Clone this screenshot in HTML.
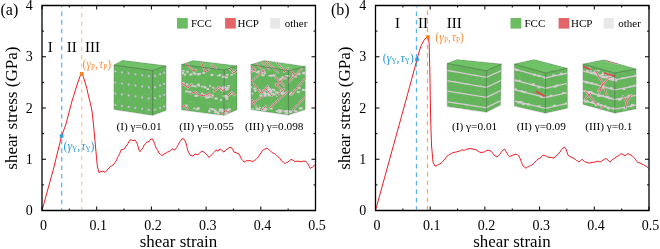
<!DOCTYPE html>
<html><head><meta charset="utf-8"><style>html,body{margin:0;padding:0;background:#fff;width:660px;height:249px;overflow:hidden}svg{display:block}</style></head><body>
<svg width="660" height="249" viewBox="0 0 660 249">
<rect width="660" height="249" fill="#fff"/>
<g style="filter:opacity(1)">
<line x1="61.7" y1="5.5" x2="61.7" y2="210.5" stroke="#5ab4ee" stroke-width="1.25" stroke-dasharray="4.6,3.95" stroke-dashoffset="2.5"/>
<line x1="81.7" y1="5.5" x2="81.7" y2="210.5" stroke="#f9c2a2" stroke-width="1.2" stroke-dasharray="4.2,4.22" stroke-dashoffset="0.9"/>
<polyline points="42,210.5 53.2,170 61.6,136 66,124 72,101 77,85 80.5,75 81.7,73.6 83.2,76.5 85,82 86.8,88.5 88.5,96 90,102 91.2,107 92,111 93,120 94,130 95,141 96,152 97.3,166 99,172.6 101,171.5 103,171.2 105,172.4 106.5,170.81 108,169 109,167.97 110,166.5 111.5,166.02 113,165 114,164.06 115,162.55 116,161 116.75,159.88 117.5,157.58 118.25,156.47 119,155 119.67,153.73 120.33,151.8 121,150 124,149 125,148.06 126,146.05 127,145.1 128,143.37 129,141.47 130,140 131,139.7 133,140.7 135,140 136,141.54 137,143 137.5,144.84 138,146.11 138.5,148.07 139,150.1 140,151.7 141,150.2 142,149.1 143,147.47 144,145.1 145.5,143.79 147,142 149,141.7 150,140.04 151,139 152.5,139 153.25,140.77 154,142 154.67,143.67 155.33,146.11 156,148 157,149.33 158,150.88 159,153 160.5,154.58 162,155.5 164,154.04 166,153.1 167.5,152.04 169,151.5 170.5,150.53 172,148.7 174,150.1 176,148.7 176.75,147.61 177.5,145.66 178.25,144.84 179,143 180,141.6 181,140.29 182,138.7 184,139 185,140.73 186,143 186.4,145.02 186.8,146.41 187.2,148.28 187.6,149.83 188,151.1 189,152.92 190,155.1 193,156.1 195,154.1 198,154.7 199.33,153.38 200.67,152 202,151.1 204,152.1 206,154.1 207.5,155.48 209,157.5 210.5,155.71 212,154.7 213.33,152.99 214.67,151.73 216,150.1 218,151.1 220,148.7 222,150.7 224,152.1 225.5,150.15 227,149.1 228.5,148.26 230,147.1 232,148.1 233,149.95 234,152.1 237,153.1 239,154.1 240,155.93 241,158.1 242,159.72 243,160.75 244,162.1 245.5,161.23 247,160.7 250,160.7 253,161.5 254.5,160.48 256,159.5 257.5,157.98 259,156.1 260,154.03 261,153.19 262,151.1 263.5,149.67 265,149.1 267,148.1 268.5,149.52 270,150.5 271.5,152.11 273,153.1 274.5,153.47 276,154.7 277.5,156.36 279,157.5 280,158.71 281,160.24 282,161.5 283.5,162.11 285,163.6 286.5,162.44 288,162.1 289.5,160.51 291,159.5 293,160.1 295,161.5 298,161.1 301,161.8 303.6,161 306,161.5 307.7,163.1 308.47,165.28 309.23,166.36 310,168.4 312.5,167.1 313.85,165.98 315.2,164.4" fill="none" stroke="#ec1c26" stroke-width="1.0" stroke-linejoin="round"/>
<path d="M42,210.5v-4M42,5.5v4M69.35,210.5v-2M69.35,5.5v2M96.7,210.5v-4M96.7,5.5v4M124.05,210.5v-2M124.05,5.5v2M151.4,210.5v-4M151.4,5.5v4M178.75,210.5v-2M178.75,5.5v2M206.1,210.5v-4M206.1,5.5v4M233.45,210.5v-2M233.45,5.5v2M260.8,210.5v-4M260.8,5.5v4M288.15,210.5v-2M288.15,5.5v2M315.5,210.5v-4M315.5,5.5v4M42,210.5h4M315.5,210.5h-4M42,184.88h2M315.5,184.88h-2M42,159.25h4M315.5,159.25h-4M42,133.62h2M315.5,133.62h-2M42,108h4M315.5,108h-4M42,82.38h2M315.5,82.38h-2M42,56.75h4M315.5,56.75h-4M42,31.12h2M315.5,31.12h-2M42,5.5h4M315.5,5.5h-4" stroke="#000" stroke-width="1" fill="none"/>
<path d="M42,5.5H315.5M315.5,4.85V211.15M315.5,210.5H42M42,211.15V4.85" stroke="#000" stroke-width="1.3" fill="none"/>
<text x="32.7" y="215.1" style="font-family:'Liberation Serif',serif" font-size="14" text-anchor="end">0</text>
<text x="32.7" y="163.85" style="font-family:'Liberation Serif',serif" font-size="14" text-anchor="end">1</text>
<text x="32.7" y="112.6" style="font-family:'Liberation Serif',serif" font-size="14" text-anchor="end">2</text>
<text x="32.7" y="61.35" style="font-family:'Liberation Serif',serif" font-size="14" text-anchor="end">3</text>
<text x="32.7" y="10.1" style="font-family:'Liberation Serif',serif" font-size="14" text-anchor="end">4</text>
<text x="43.6" y="229.6" style="font-family:'Liberation Serif',serif" font-size="14" text-anchor="middle">0</text>
<text x="98.3" y="229.6" style="font-family:'Liberation Serif',serif" font-size="14" text-anchor="middle">0.1</text>
<text x="153" y="229.6" style="font-family:'Liberation Serif',serif" font-size="14" text-anchor="middle">0.2</text>
<text x="207.7" y="229.6" style="font-family:'Liberation Serif',serif" font-size="14" text-anchor="middle">0.3</text>
<text x="262.4" y="229.6" style="font-family:'Liberation Serif',serif" font-size="14" text-anchor="middle">0.4</text>
<text x="317.1" y="229.6" style="font-family:'Liberation Serif',serif" font-size="14" text-anchor="middle">0.5</text>
<text x="178.5" y="246.9" style="font-family:'Liberation Serif',serif" font-size="16.3" text-anchor="middle" textLength="77.6" lengthAdjust="spacingAndGlyphs">shear strain</text>
<text transform="translate(17.3,108.1) rotate(-90)" style="font-family:'Liberation Serif',serif" font-size="16.5" text-anchor="middle" textLength="123.2" lengthAdjust="spacingAndGlyphs">shear stress (GPa)</text>
<text x="0.5" y="15" style="font-family:'Liberation Serif',serif" font-size="16">(a)</text>
<line x1="416.5" y1="5.5" x2="416.5" y2="210.5" stroke="#5ab4ee" stroke-width="1.25" stroke-dasharray="4.6,3.87" stroke-dashoffset="2.5"/>
<line x1="427.5" y1="5.5" x2="427.5" y2="210.5" stroke="#f3a866" stroke-width="1.2" stroke-dasharray="4.6,3.9" stroke-dashoffset="3.5"/>
<polyline points="375.5,210.5 406,100 417,59.5 419.3,51 421.2,45.5 424,40.2 426,37.8 427.6,36.9 428.5,38 429.2,44 429.8,70 430.7,120 431.5,145 433,162 435,166.2 437,165.5 438.5,164.45 440,164.1 441.33,162.57 442.67,161.43 444,160.1 445,159.06 446,157.53 447,156.1 448.5,155.32 450,154.1 451.5,153.49 453,152.5 456,152.1 459,151.1 460.5,150.81 462,149.7 464,150.5 465.5,149.7 467,149.1 470,148.5 473,149.1 476,149.7 478,151.1 479.5,152.01 481,152.5 484,152.1 486,150.82 488,150.1 491,151.1 492,152.54 493,153.36 494,155.1 495.5,156.14 497,157.1 498.5,155.76 500,154.1 501,152.57 502,151.15 503,150.1 504.7,149.1 505.85,151.34 507,153.1 508.25,155.35 509.5,156.7 512,155.5 514,154.64 516,154.1 517.5,154.86 519,156.1 519.67,157.87 520.33,158.99 521,161.1 521.67,162.59 522.33,164.41 523,166.1 524.5,167.06 526,168.2 527.5,167.09 529,166.5 530.5,165.51 532,165.1 533.5,163.57 535,162.1 536.5,160.51 538,159.1 540,158.1 541.5,156.67 543,155.1 545,155.6 546.5,156.32 548,157.1 551,157.5 554,158.1 556,156.1 557.5,154.46 559,153.1 560,152.14 561,150.37 562,149.1 563.25,147.72 564.5,147.1 566,149.1 566.67,151.13 567.33,153.1 568,155.1 569.5,156.4 571,157.1 573,157.9 575,159.1 576.33,160.49 577.67,161.07 579,162.1 580.5,160.51 582,159.4 583.33,160.39 584.67,161.5 586,162.1 589,163.1 592,162.5 595,162.1 598,161.1 600,162.1 601.5,161.32 603,160.1 604.5,159.16 606,158.5 608,160.1 610,162.1 611.5,160.72 613,159.1 614.5,158.37 616,157.1 618,156.1 619.5,154.99 621,153.7 623,154.5 625,155.7 626.5,154.5 628,153.7 629.5,154.38 631,155.1 632.5,156.15 634,157.7 635.33,159.13 636.67,161.29 638,162.5 640,163.01 642,164.1 643.5,164.62 645,165.7 646.75,166.64 648.5,168.2" fill="none" stroke="#ec1c26" stroke-width="1.0" stroke-linejoin="round"/>
<path d="M375.5,210.5v-4M375.5,5.5v4M402.85,210.5v-2M402.85,5.5v2M430.2,210.5v-4M430.2,5.5v4M457.55,210.5v-2M457.55,5.5v2M484.9,210.5v-4M484.9,5.5v4M512.25,210.5v-2M512.25,5.5v2M539.6,210.5v-4M539.6,5.5v4M566.95,210.5v-2M566.95,5.5v2M594.3,210.5v-4M594.3,5.5v4M621.65,210.5v-2M621.65,5.5v2M649,210.5v-4M649,5.5v4M375.5,210.5h4M649,210.5h-4M375.5,184.88h2M649,184.88h-2M375.5,159.25h4M649,159.25h-4M375.5,133.62h2M649,133.62h-2M375.5,108h4M649,108h-4M375.5,82.38h2M649,82.38h-2M375.5,56.75h4M649,56.75h-4M375.5,31.12h2M649,31.12h-2M375.5,5.5h4M649,5.5h-4" stroke="#000" stroke-width="1" fill="none"/>
<path d="M375.5,5.5H649M649,4.85V211.15M649,210.5H375.5M375.5,211.15V4.85" stroke="#000" stroke-width="1.3" fill="none"/>
<text x="366.2" y="215.1" style="font-family:'Liberation Serif',serif" font-size="14" text-anchor="end">0</text>
<text x="366.2" y="163.85" style="font-family:'Liberation Serif',serif" font-size="14" text-anchor="end">1</text>
<text x="366.2" y="112.6" style="font-family:'Liberation Serif',serif" font-size="14" text-anchor="end">2</text>
<text x="366.2" y="61.35" style="font-family:'Liberation Serif',serif" font-size="14" text-anchor="end">3</text>
<text x="366.2" y="10.1" style="font-family:'Liberation Serif',serif" font-size="14" text-anchor="end">4</text>
<text x="377.1" y="229.6" style="font-family:'Liberation Serif',serif" font-size="14" text-anchor="middle">0</text>
<text x="431.8" y="229.6" style="font-family:'Liberation Serif',serif" font-size="14" text-anchor="middle">0.1</text>
<text x="486.5" y="229.6" style="font-family:'Liberation Serif',serif" font-size="14" text-anchor="middle">0.2</text>
<text x="541.2" y="229.6" style="font-family:'Liberation Serif',serif" font-size="14" text-anchor="middle">0.3</text>
<text x="595.9" y="229.6" style="font-family:'Liberation Serif',serif" font-size="14" text-anchor="middle">0.4</text>
<text x="650.6" y="229.6" style="font-family:'Liberation Serif',serif" font-size="14" text-anchor="middle">0.5</text>
<text x="512" y="246.9" style="font-family:'Liberation Serif',serif" font-size="16.3" text-anchor="middle" textLength="77.6" lengthAdjust="spacingAndGlyphs">shear strain</text>
<text transform="translate(349.8,108.1) rotate(-90)" style="font-family:'Liberation Serif',serif" font-size="16.5" text-anchor="middle" textLength="123.2" lengthAdjust="spacingAndGlyphs">shear stress (GPa)</text>
<text x="331" y="14.6" style="font-family:'Liberation Serif',serif" font-size="16">(b)</text>
<rect x="59.8" y="134.2" width="3.6" height="3.6" fill="#2d9be0"/>
<rect x="79.9" y="72" width="3.6" height="3.6" fill="#f5841f"/>
<rect x="415.2" y="57.7" width="3.6" height="3.6" fill="#2d9be0"/>
<rect x="426.2" y="35.2" width="3.6" height="3.6" fill="#f5841f"/>
<text x="47.7" y="52" style="font-family:'Liberation Serif',serif" font-size="15">I</text>
<text x="66.7" y="52" style="font-family:'Liberation Serif',serif" font-size="15">II</text>
<text x="85.1" y="52" style="font-family:'Liberation Serif',serif" font-size="15">III</text>
<text x="395.1" y="28" style="font-family:'Liberation Serif',serif" font-size="15">I</text>
<text x="418.1" y="28" style="font-family:'Liberation Serif',serif" font-size="15">II</text>
<text x="446.7" y="28" style="font-family:'Liberation Serif',serif" font-size="15">III</text>
<rect x="177" y="18" width="10.8" height="10.6" fill="#6cbc62"/>
<text x="191" y="27" style="font-family:'Liberation Serif',serif" font-size="11">FCC</text>
<rect x="225.1" y="18" width="10.7" height="10.6" fill="#e46468"/>
<text x="237.6" y="27" style="font-family:'Liberation Serif',serif" font-size="11">HCP</text>
<rect x="270.2" y="18" width="10" height="10.6" fill="#e8e8e8"/>
<text x="284.8" y="27" style="font-family:'Liberation Serif',serif" font-size="11">other</text>
<rect x="510.5" y="18" width="10.8" height="10.6" fill="#6cbc62"/>
<text x="524.5" y="27" style="font-family:'Liberation Serif',serif" font-size="11">FCC</text>
<rect x="558.6" y="18" width="10.7" height="10.6" fill="#e46468"/>
<text x="571.1" y="27" style="font-family:'Liberation Serif',serif" font-size="11">HCP</text>
<rect x="603.7" y="18" width="10" height="10.6" fill="#e8e8e8"/>
<text x="618.3" y="27" style="font-family:'Liberation Serif',serif" font-size="11">other</text>
<clipPath id="cb0"><polygon points="113.9,65 122.5,60.3 166.2,65.8 166.1,110.5 152.6,115.4 113.9,109.6"/></clipPath>
<g clip-path="url(#cb0)">
<polygon points="113.9,65 122.5,60.3 166.2,65.8 166.1,110.5 152.6,115.4 113.9,109.6" fill="#65b55d"/>
<polygon points="113.9,65 122.5,60.3 166.2,65.8 152.7,70.5" fill="#70c267"/>
<path d="M137.56,91.14h0.8M140.46,92.66h0.8M146.84,103.99h0.8M118.64,104.91h0.8M165.27,113.46h0.8M122.14,61.13h0.8M123.85,73.63h0.8M136.94,106.72h0.8M140.04,96.8h0.8M166.08,115.16h0.8M130.39,72.95h0.8M153.98,82.36h0.8M164.01,106.99h0.8M161.51,86.2h0.8M117.72,94.98h0.8M118.46,78.63h0.8M120.07,73.88h0.8M155.58,70.09h0.8M123.87,100.63h0.8M119.99,83.48h0.8M164.68,104.57h0.8M124.92,82.02h0.8M119.15,114.81h0.8M154.31,78.43h0.8M118.61,92.41h0.8M133.34,85.27h0.8M143.95,108.05h0.8M161.41,105.36h0.8M152.57,112.12h0.8M160.04,93.55h0.8M115.92,113.34h0.8M127.34,105.69h0.8M123.08,99.99h0.8M143.15,107.27h0.8M161.88,71.54h0.8M137.21,63.63h0.8M143.82,67.55h0.8M165.18,96.5h0.8M121.24,62.23h0.8M150.56,113.35h0.8M139.12,100.55h0.8M117.84,90.39h0.8M152.45,99.07h0.8M132.3,98.05h0.8M135.72,103.86h0.8M146.59,81.37h0.8M118.09,95.53h0.8M151.99,81.7h0.8M136.94,106.49h0.8M115.46,93.43h0.8M150.42,87.7h0.8M127.28,60.92h0.8M124.49,69.65h0.8M137.01,109.43h0.8M124.28,84.04h0.8M159.94,81.48h0.8M121.02,87.66h0.8M151.1,112.65h0.8M137.47,75.46h0.8M146.63,87.51h0.8M165.26,85.23h0.8M159.55,62.59h0.8M130.06,103.91h0.8M137.69,61.66h0.8M121.27,62.89h0.8M146.85,96.39h0.8M149.7,71.28h0.8M114.46,86.32h0.8M128.14,79.35h0.8M146.04,101.97h0.8M161.3,65.11h0.8M120.69,85.29h0.8M133.61,91.64h0.8M163.28,85.85h0.8M151.66,105.39h0.8M125.06,109.89h0.8M141.98,103.87h0.8M158.66,79.5h0.8M142.68,102.63h0.8M156.22,63.83h0.8M131.42,103.71h0.8M140.91,100.17h0.8M163.36,87.44h0.8M125.48,89.32h0.8M147.31,89.11h0.8M130.2,81.31h0.8M124.79,107.18h0.8M143.87,71.37h0.8M145.55,61.83h0.8M134.85,104.44h0.8M150.04,63.93h0.8M163.94,111.18h0.8M120.54,84.2h0.8M138.82,77.78h0.8M162.29,67.43h0.8M124.05,72.82h0.8M132.48,94.45h0.8M120.32,88.43h0.8M141.64,84.37h0.8M141.58,69.1h0.8M147.29,89.48h0.8M158.71,73.12h0.8M161.11,77.7h0.8M125.31,115.31h0.8M126.42,100.33h0.8M157.42,83.53h0.8M134.97,98.06h0.8M149.59,110.52h0.8M140.35,102.07h0.8M123.79,64.19h0.8M142.75,88.67h0.8M123.55,71.54h0.8M162.38,65.55h0.8M138.07,102.44h0.8M140.85,84h0.8M150.56,106.82h0.8M152.57,82.63h0.8M140.71,61.15h0.8M150.75,107.73h0.8M145.26,88.09h0.8M127.41,110.51h0.8M156.51,82.65h0.8M150.24,102.58h0.8M151.69,64.19h0.8M114.45,79.9h0.8M126.04,112.35h0.8M148.41,91.68h0.8M166.19,95.69h0.8M165.16,61.56h0.8M127.32,82.43h0.8M133.55,65.72h0.8M142.67,88.28h0.8M165.94,95.45h0.8M145.15,102.13h0.8M122.26,86.29h0.8M145.86,63.53h0.8M141.45,93.24h0.8M148.16,91.19h0.8M129.38,61.07h0.8M122.09,101.88h0.8M153.04,63.06h0.8M117.74,110.2h0.8M164.8,73.73h0.8M151.7,86.11h0.8M145.47,66.64h0.8M124.55,63.17h0.8M137.06,97.1h0.8M144.35,83.42h0.8M166.08,112.79h0.8M119.86,109.49h0.8M132.69,75.26h0.8M144.84,95.18h0.8M126.92,114.28h0.8M115.97,63.65h0.8M146.5,65.95h0.8M118.42,97.56h0.8M133.42,86.67h0.8M152.85,106.5h0.8M156.22,94.67h0.8M136.09,74.52h0.8" stroke="#5aaa55" stroke-width="0.8" opacity="0.6"/>
<path d="M162.24,85.96h0.8M123.56,88.51h0.8M118.82,77.02h0.8M150.17,62.61h0.8M148.1,94.22h0.8M141.53,63.58h0.8M115.47,85.86h0.8M141.05,95.58h0.8M137.82,75.63h0.8M157.84,99.3h0.8M129.02,64.17h0.8M158.18,81.6h0.8M113.93,71.86h0.8M165.17,82.2h0.8M154.62,75.16h0.8M164.32,102.07h0.8M119.18,63.6h0.8M143.15,84.95h0.8M120.75,95.77h0.8M125.03,75.17h0.8M129.81,109.06h0.8M158.58,95.67h0.8M125.05,74.53h0.8M129.4,64.34h0.8M126.61,93.43h0.8M164.06,86.95h0.8M123.46,68.79h0.8M126.95,70.76h0.8M124.18,112.65h0.8M135.94,66.02h0.8M126.37,99.12h0.8M145.1,76.47h0.8M117.5,72.88h0.8M146.03,75.74h0.8M114.77,75.13h0.8M123.12,80.62h0.8M132.84,109.39h0.8M150.05,92.5h0.8M114.84,110.45h0.8M115.01,95.35h0.8M130.58,115.36h0.8M152.45,109.9h0.8M155.39,110.72h0.8M161.01,108.3h0.8M159.06,91.86h0.8M144.37,93.85h0.8M165.85,108.78h0.8M152.34,92.31h0.8M118.28,101.64h0.8M139.05,72.99h0.8M146.04,111.02h0.8M129.64,97.67h0.8M161.27,96.67h0.8M131,96.99h0.8M156.05,110.67h0.8M144.4,77.74h0.8M157.68,107.06h0.8M128.38,69.62h0.8M125.1,83.11h0.8M130.39,106.54h0.8M117.81,62.03h0.8M150.96,91.74h0.8M114.9,67.79h0.8M157.29,73.38h0.8M146.81,84.9h0.8M156.13,113.11h0.8M138.75,70.15h0.8M151.25,70.17h0.8M150.37,88.98h0.8M134.48,103.94h0.8M162.68,100.1h0.8M146.62,110.44h0.8M159.89,104.2h0.8M147.96,71.59h0.8M147.46,99.84h0.8M165.18,114.15h0.8M130.66,110.44h0.8M118.23,84.59h0.8M139.39,61.87h0.8M155.73,69.83h0.8M121.25,68.49h0.8M157.83,98.28h0.8M163.54,65.04h0.8M129.08,100.46h0.8M158.02,91.15h0.8M158.11,109.92h0.8M164.55,89.18h0.8M141.93,88.02h0.8M164.6,88.73h0.8M143.34,87.36h0.8M142.07,83.1h0.8M127.98,86.37h0.8M156.56,109.92h0.8M123.91,94.35h0.8M154.66,61.56h0.8M149.83,78.05h0.8M119.39,100.57h0.8M127,71.19h0.8M133.55,83.08h0.8M124.58,95.09h0.8M158.42,94.01h0.8M152.64,104.96h0.8M130.37,111.14h0.8M160.32,67.68h0.8M127.47,65.65h0.8M155.21,67.24h0.8M114.83,71.37h0.8M164.55,66.66h0.8M140.2,98.08h0.8M119.45,62.36h0.8M143.65,68.38h0.8M157.84,114.87h0.8M117.14,112.73h0.8M130.99,86.03h0.8M145.33,61.03h0.8M123.38,85.31h0.8M124.11,69.4h0.8M160.61,104.47h0.8M146.82,82.59h0.8M165.29,104.65h0.8M152.83,103.17h0.8M160.79,108.78h0.8M153.92,82.66h0.8M131.77,86.13h0.8M147.3,94.68h0.8M148.74,78.91h0.8M141.78,81.77h0.8M150.58,102.27h0.8M146.09,101.01h0.8M116.54,71.07h0.8M127.02,110.2h0.8M164.48,91.6h0.8M156.24,64.5h0.8M116.26,111.55h0.8M122.75,87.6h0.8M163.34,83.48h0.8M133.02,76.04h0.8M128.73,99.78h0.8M126.71,62.66h0.8M134.29,109.75h0.8M165.61,112.34h0.8M136.36,86.62h0.8M141.27,111.94h0.8M165.09,105.3h0.8M146.55,85.41h0.8M141.52,67.15h0.8M137.73,74.74h0.8M154.59,89.55h0.8M152.3,73.44h0.8M154.92,94.74h0.8M149.73,91.43h0.8M153.3,70.76h0.8M161.79,108.72h0.8M128.07,83.73h0.8M142.23,64.29h0.8M142.7,95.07h0.8M124.92,79.24h0.8M117.79,66.9h0.8M154.11,72.05h0.8M156.26,80.63h0.8" stroke="#8ad282" stroke-width="0.8" opacity="0.6"/>
<circle cx="115.26" cy="71.44" r="1.15" fill="#c6bad8"/>
<circle cx="121.97" cy="72.4" r="1.15" fill="#c6bad8"/>
<circle cx="128.68" cy="73.36" r="1.15" fill="#c6bad8"/>
<circle cx="135.39" cy="74.31" r="1.15" fill="#c6bad8"/>
<circle cx="142.1" cy="75.27" r="1.15" fill="#c6bad8"/>
<circle cx="148.81" cy="76.23" r="1.15" fill="#c6bad8"/>
<circle cx="115.26" cy="82.59" r="1.15" fill="#c6bad8"/>
<circle cx="121.96" cy="83.56" r="1.15" fill="#c6bad8"/>
<circle cx="128.67" cy="84.53" r="1.15" fill="#c6bad8"/>
<circle cx="135.37" cy="85.51" r="1.15" fill="#c6bad8"/>
<circle cx="142.08" cy="86.48" r="1.15" fill="#c6bad8"/>
<circle cx="148.78" cy="87.45" r="1.15" fill="#c6bad8"/>
<circle cx="115.26" cy="93.52" r="1.15" fill="#c6bad8"/>
<circle cx="121.96" cy="94.5" r="1.15" fill="#c6bad8"/>
<circle cx="128.66" cy="95.49" r="1.15" fill="#c6bad8"/>
<circle cx="135.36" cy="96.47" r="1.15" fill="#c6bad8"/>
<circle cx="142.06" cy="97.46" r="1.15" fill="#c6bad8"/>
<circle cx="148.76" cy="98.44" r="1.15" fill="#c6bad8"/>
<circle cx="115.25" cy="104.9" r="1.15" fill="#c6bad8"/>
<circle cx="121.95" cy="105.89" r="1.15" fill="#c6bad8"/>
<circle cx="128.65" cy="106.89" r="1.15" fill="#c6bad8"/>
<circle cx="135.35" cy="107.89" r="1.15" fill="#c6bad8"/>
<circle cx="142.04" cy="108.89" r="1.15" fill="#c6bad8"/>
<circle cx="148.74" cy="109.88" r="1.15" fill="#c6bad8"/>
<circle cx="155.12" cy="75.93" r="1.15" fill="#c6bad8"/>
<circle cx="160.11" cy="74.19" r="1.15" fill="#c6bad8"/>
<circle cx="164.16" cy="72.77" r="1.15" fill="#c6bad8"/>
<circle cx="155.09" cy="87.15" r="1.15" fill="#c6bad8"/>
<circle cx="160.09" cy="85.38" r="1.15" fill="#c6bad8"/>
<circle cx="164.14" cy="83.95" r="1.15" fill="#c6bad8"/>
<circle cx="155.07" cy="98.14" r="1.15" fill="#c6bad8"/>
<circle cx="160.06" cy="96.36" r="1.15" fill="#c6bad8"/>
<circle cx="164.11" cy="94.91" r="1.15" fill="#c6bad8"/>
<circle cx="155.04" cy="109.58" r="1.15" fill="#c6bad8"/>
<circle cx="160.04" cy="107.78" r="1.15" fill="#c6bad8"/>
<circle cx="164.09" cy="106.31" r="1.15" fill="#c6bad8"/>
</g>
<path d="M113.9,65L152.7,70.5L166.2,65.8M152.7,70.5L152.6,115.4" stroke="#404a40" stroke-width="0.6" fill="none" opacity="0.7"/>
<polygon points="113.9,65 122.5,60.3 166.2,65.8 166.1,110.5 152.6,115.4 113.9,109.6" fill="none" stroke="#4c5a4c" stroke-width="0.5" opacity="0.5"/>
<clipPath id="cb1"><polygon points="181.3,64.6 193,60.4 237,65.8 237,110 224,115.4 181.5,110"/></clipPath>
<g clip-path="url(#cb1)">
<polygon points="181.3,64.6 193,60.4 237,65.8 237,110 224,115.4 181.5,110" fill="#65b55d"/>
<polygon points="181.3,64.6 193,60.4 237,65.8 224.2,70" fill="#70c267"/>
<path d="M217.71,114.8h0.8M222.86,111.05h0.8M186.7,108.53h0.8M212.73,87.07h0.8M224.5,64.58h0.8M185.85,77.11h0.8M197.06,68.26h0.8M201.71,66.86h0.8M232.46,112.1h0.8M226.03,77.16h0.8M233.36,109.61h0.8M201.66,80.38h0.8M192.16,91.41h0.8M227.89,91.35h0.8M230.37,75.88h0.8M211.61,91.61h0.8M226.1,63.92h0.8M185.98,64.89h0.8M186.02,95.28h0.8M217.45,73.9h0.8M210.35,102.46h0.8M235.23,97.38h0.8M221.46,99.35h0.8M227.32,97.07h0.8M227.74,109.28h0.8M210.48,99.45h0.8M204.72,68.44h0.8M202.22,69.62h0.8M197.57,113.74h0.8M187.7,96.04h0.8M184.77,85.63h0.8M183.33,66.38h0.8M194.41,99.85h0.8M191.6,75.86h0.8M198.66,90.55h0.8M195.81,109.21h0.8M211.79,113.04h0.8M184.07,112.51h0.8M210.69,88.77h0.8M217.93,73.47h0.8M202,104.22h0.8M190.06,69.03h0.8M229.72,88.79h0.8M196.14,89.8h0.8M181.38,105.58h0.8M185.89,75.25h0.8M208.04,86.18h0.8M229.05,77.1h0.8M232.36,65.4h0.8M211.57,89.31h0.8M198.65,77.49h0.8M207.32,99.73h0.8M187.19,82.08h0.8M227.52,96.37h0.8M220.85,73.46h0.8M181.88,114.94h0.8M215.61,76.37h0.8M197.91,78.96h0.8M195.58,71.4h0.8M233.94,91.35h0.8M227.36,65.48h0.8M219.05,99.36h0.8M227.92,93h0.8M190.05,67.23h0.8M232.58,83.89h0.8M224.01,105.56h0.8M204.26,61.25h0.8M235.99,103.83h0.8M182.33,78.61h0.8M187.22,81.17h0.8M227.26,94.03h0.8M231.6,90.55h0.8M189.2,99.64h0.8M221.15,106.35h0.8M216.23,71.28h0.8M213.41,98.74h0.8M201.42,85.87h0.8M188.85,110.12h0.8M212.51,74.94h0.8M226.84,93.48h0.8M197.37,109.74h0.8M227.57,70.61h0.8M183.08,70.3h0.8M217.97,77.32h0.8M202.56,92.95h0.8M192.41,86.14h0.8M213.02,69.95h0.8M212.94,78.67h0.8M218.67,68.36h0.8M207.47,83.03h0.8M223.52,101.74h0.8M227.99,107.43h0.8M212.82,110.19h0.8M205.37,110.14h0.8M221.71,109.91h0.8M223.18,77.16h0.8M188.23,84.98h0.8M184.19,98.62h0.8M198.36,82.15h0.8M232.06,113.56h0.8M204.77,104.69h0.8M212.87,110.09h0.8M188.2,89.97h0.8M194.89,76.86h0.8M231.16,105.25h0.8M213.91,62.92h0.8M198.45,87.81h0.8M207.63,71.76h0.8M231.25,71.15h0.8M207.62,69.85h0.8M192.55,95.18h0.8M184.09,66.24h0.8M231.45,108.23h0.8M220.06,111.98h0.8M193.73,77.29h0.8M191.38,73.35h0.8M202.05,96.81h0.8M194.06,76.95h0.8M196.72,95.6h0.8M205.83,89.46h0.8M214.7,76.05h0.8M186.16,76.08h0.8M196.85,90.55h0.8M236.32,62.25h0.8M202.73,111.51h0.8M212.27,95.87h0.8M224.91,88.82h0.8M219.41,89.03h0.8M224.73,69.48h0.8M205.83,102.92h0.8M194.44,87.3h0.8M209.09,62.34h0.8M213.2,108.41h0.8M182.29,87.69h0.8M195.95,104.32h0.8M212.99,90.28h0.8M189.45,77.51h0.8M215.9,89.3h0.8M186.23,105.53h0.8M190.2,98.39h0.8M184.71,82.98h0.8M235.36,62.72h0.8M236.23,68.35h0.8M183.48,73.63h0.8M203.19,76.79h0.8M183.21,115.19h0.8M194.1,74.33h0.8M207.01,111.68h0.8M235.96,94h0.8M217.49,63.62h0.8M229.45,92.89h0.8M203.19,106.77h0.8M193.3,79.51h0.8M190.43,71.6h0.8M198.49,84.99h0.8M229.35,71.65h0.8M219.81,80.35h0.8M191.44,74.83h0.8M221.14,75.17h0.8M233.47,80.19h0.8" stroke="#5aaa55" stroke-width="0.8" opacity="0.6"/>
<path d="M199.42,90.57h0.8M205.12,80.71h0.8M185.67,64.97h0.8M219.47,76.84h0.8M193.18,96.82h0.8M221.68,98.57h0.8M201.23,100.33h0.8M220.81,91.71h0.8M232.18,84.49h0.8M198.99,82.38h0.8M195.13,80.29h0.8M203.34,81.72h0.8M225.7,90.13h0.8M191.14,102.14h0.8M182.54,88.76h0.8M235.13,96.22h0.8M211.76,103.74h0.8M222.35,109.85h0.8M189.31,101.42h0.8M193.58,102.49h0.8M203.27,78.98h0.8M208.8,89.95h0.8M232.26,82.98h0.8M228.84,104.72h0.8M234.65,95.62h0.8M225.99,83.59h0.8M222.59,114.91h0.8M192.68,83.77h0.8M184.6,77.36h0.8M224.52,70.27h0.8M213.83,110.41h0.8M191.58,72.36h0.8M214.43,72.72h0.8M190.91,102.06h0.8M226.81,86.77h0.8M232.22,79.21h0.8M208.18,72.56h0.8M225.94,81.57h0.8M196.59,114.86h0.8M181.91,86.4h0.8M221.03,93.73h0.8M199.22,74.67h0.8M216.78,115.02h0.8M189.69,102.77h0.8M228.43,105.61h0.8M221.21,65.74h0.8M234.52,92.66h0.8M225.27,83.33h0.8M227.33,71.86h0.8M190.08,106.16h0.8M185.53,77.21h0.8M201.34,98.19h0.8M207.02,113.58h0.8M181.99,81.14h0.8M212.72,85.59h0.8M225.83,71.77h0.8M202.24,90.09h0.8M203.15,97.07h0.8M222.04,78.52h0.8M221.62,78.64h0.8M189.14,65.59h0.8M191.32,82.53h0.8M186.32,72.86h0.8M203.96,64.4h0.8M209.79,96h0.8M202.8,78.63h0.8M203.62,98.89h0.8M218.07,93.87h0.8M200.36,96.19h0.8M209.67,103.77h0.8M190.12,102.56h0.8M200.94,87.92h0.8M236.26,88.78h0.8M192.28,112.37h0.8M185.94,73.85h0.8M199.64,111.5h0.8M188.21,113.95h0.8M211.57,91.24h0.8M231.95,114.97h0.8M188.13,105.76h0.8M194.72,91.95h0.8M211.82,64.59h0.8M236.28,112.07h0.8M218.69,100.97h0.8M226.07,61.3h0.8M189.26,81.65h0.8M210.25,74.9h0.8M217.04,62.48h0.8M234.73,93.41h0.8M216.05,98.31h0.8M208.36,115.1h0.8M204.08,84.27h0.8M210.6,89.28h0.8M199.16,63.41h0.8M222.07,93.26h0.8M214.35,64.24h0.8M209.3,82.22h0.8M210.61,73.55h0.8M194.44,64.16h0.8M218.38,108.06h0.8M193.65,101.46h0.8M186.79,103.98h0.8M234.27,60.43h0.8M199.39,63.84h0.8M203.43,80.01h0.8M183.03,109.82h0.8M233.32,114.15h0.8M197.75,111.15h0.8M227.97,79.88h0.8M230.3,115.15h0.8M191.97,108.81h0.8M221.73,77.61h0.8M221.02,67.82h0.8M206.1,64.74h0.8M220.88,71.21h0.8M218.32,103.88h0.8M230.56,92.84h0.8M232.92,97.09h0.8M186.31,114.47h0.8M210.87,62.89h0.8M195.28,104.58h0.8M223.39,73.92h0.8M191.68,109.74h0.8M207.01,101.68h0.8M209.14,70.29h0.8M201.33,96.6h0.8M209.46,106.9h0.8M234.3,69.97h0.8M215.17,73.34h0.8M225.11,103.91h0.8M193.62,92.3h0.8M214.54,99.71h0.8M191.33,68.75h0.8M205.51,84.69h0.8M185.34,110.3h0.8M225.39,73.49h0.8M183.66,77.69h0.8M196.05,92.78h0.8M190.86,74.42h0.8M227.58,103.67h0.8M201.6,72.3h0.8M208.57,102.27h0.8M206.66,101.37h0.8M230.88,68.19h0.8M204.94,64.61h0.8M223.81,100.77h0.8M212.04,73.69h0.8M201.57,78.94h0.8M183.51,82.57h0.8M200.42,98.61h0.8M230.67,85.84h0.8M202.53,103.37h0.8M191.53,90.63h0.8M193.25,86.12h0.8M236.63,97.76h0.8M202.63,64.4h0.8M196.59,61.42h0.8M203.19,111.2h0.8M201.41,68.84h0.8M223.95,100.19h0.8" stroke="#8ad282" stroke-width="0.8" opacity="0.6"/>
<rect x="218.99" y="74.04" width="2.38" height="1.81" fill="#d6ced4"/>
<rect x="183.7" y="73.5" width="2.39" height="2.12" fill="#d6ced4"/>
<rect x="202.38" y="72.1" width="2.51" height="1.69" fill="#d6ced4"/>
<rect x="181.88" y="69.95" width="2.87" height="1.53" fill="#d6ced4"/>
<rect x="193.51" y="72.66" width="2.78" height="1.61" fill="#d6ced4"/>
<rect x="210.4" y="74.05" width="3.11" height="2.03" fill="#d6ced4"/>
<rect x="186.43" y="70.77" width="2.3" height="2.07" fill="#d6ced4"/>
<rect x="197.49" y="72.99" width="3.36" height="1.68" fill="#d6ced4"/>
<rect x="192.64" y="72.19" width="2.19" height="1.53" fill="#d6ced4"/>
<rect x="181.19" y="72.04" width="2.82" height="2.15" fill="#d6ced4"/>
<rect x="221.92" y="75.67" width="3.01" height="2.24" fill="#d6ced4"/>
<rect x="189.4" y="73.34" width="3" height="2.26" fill="#d6ced4"/>
<rect x="217.33" y="74.8" width="2.94" height="1.57" fill="#d6ced4"/>
<rect x="198.45" y="73.14" width="1.91" height="1.81" fill="#d6ced4"/>
<rect x="194.19" y="73.08" width="2.3" height="1.63" fill="#d6ced4"/>
<rect x="197.37" y="73.38" width="2.1" height="2.03" fill="#d6ced4"/>
<rect x="226.05" y="73.83" width="2.42" height="1.84" fill="#d6ced4"/>
<rect x="224.9" y="76.43" width="3.06" height="1.94" fill="#d6ced4"/>
<rect x="231.96" y="71.51" width="2.5" height="1.79" fill="#d6ced4"/>
<rect x="223.78" y="76.01" width="1.9" height="1.9" fill="#d6ced4"/>
<rect x="230.49" y="74" width="2.39" height="1.7" fill="#d6ced4"/>
<rect x="181.19" y="82.1" width="3.41" height="1.95" fill="#d6ced4"/>
<rect x="191.38" y="84.85" width="2.13" height="1.88" fill="#d6ced4"/>
<rect x="206.47" y="88.05" width="2.45" height="1.96" fill="#d6ced4"/>
<rect x="220.45" y="88.99" width="2.93" height="2" fill="#d6ced4"/>
<rect x="197.74" y="84.5" width="2.3" height="2.16" fill="#d6ced4"/>
<rect x="217.78" y="86.88" width="3.44" height="1.53" fill="#d6ced4"/>
<rect x="185.99" y="83.43" width="2.36" height="1.79" fill="#d6ced4"/>
<rect x="221.94" y="86.35" width="2.15" height="1.68" fill="#d6ced4"/>
<rect x="209.25" y="85.14" width="1.8" height="1.94" fill="#d6ced4"/>
<rect x="197.02" y="83.61" width="2.69" height="2.02" fill="#d6ced4"/>
<rect x="203.61" y="86.19" width="2.81" height="2.16" fill="#d6ced4"/>
<rect x="221.59" y="87.14" width="2.42" height="2.21" fill="#d6ced4"/>
<rect x="193.58" y="85.34" width="3.05" height="2.05" fill="#d6ced4"/>
<rect x="221.37" y="89.35" width="2.09" height="2" fill="#d6ced4"/>
<rect x="201.15" y="85.61" width="2.47" height="1.73" fill="#d6ced4"/>
<rect x="212.19" y="86.87" width="2.23" height="1.7" fill="#d6ced4"/>
<rect x="227.11" y="85.09" width="2.72" height="1.6" fill="#d6ced4"/>
<rect x="223.74" y="85.82" width="1.98" height="2.06" fill="#d6ced4"/>
<rect x="224.37" y="87.32" width="3.19" height="1.88" fill="#d6ced4"/>
<rect x="225" y="88.96" width="3.37" height="1.54" fill="#d6ced4"/>
<rect x="226.19" y="86.91" width="3.23" height="1.81" fill="#d6ced4"/>
<rect x="210.76" y="94.49" width="3.09" height="1.76" fill="#d6ced4"/>
<rect x="194.46" y="94.73" width="3.32" height="2.16" fill="#d6ced4"/>
<rect x="204.43" y="94.45" width="3.07" height="2" fill="#d6ced4"/>
<rect x="215.66" y="97.6" width="2.03" height="1.8" fill="#d6ced4"/>
<rect x="208.78" y="94.14" width="2.13" height="1.51" fill="#d6ced4"/>
<rect x="205.2" y="96.91" width="3.55" height="1.61" fill="#d6ced4"/>
<rect x="209.55" y="95.09" width="2.94" height="1.82" fill="#d6ced4"/>
<rect x="220.03" y="99.01" width="1.89" height="2.07" fill="#d6ced4"/>
<rect x="185.27" y="90.31" width="2.31" height="2.08" fill="#d6ced4"/>
<rect x="222.61" y="95.39" width="2.39" height="1.52" fill="#d6ced4"/>
<rect x="203.37" y="94.6" width="2.47" height="1.75" fill="#d6ced4"/>
<rect x="214.36" y="97.61" width="2.31" height="1.81" fill="#d6ced4"/>
<rect x="206.57" y="96.29" width="3.57" height="1.81" fill="#d6ced4"/>
<rect x="209.83" y="95.7" width="3.24" height="1.62" fill="#d6ced4"/>
<rect x="187.69" y="90.91" width="3.48" height="1.7" fill="#d6ced4"/>
<rect x="201.05" y="92.66" width="2.38" height="1.52" fill="#d6ced4"/>
<rect x="230.19" y="92.76" width="2.93" height="1.72" fill="#d6ced4"/>
<rect x="225.82" y="95.94" width="2.46" height="1.71" fill="#d6ced4"/>
<rect x="223.55" y="94.92" width="3.41" height="1.75" fill="#d6ced4"/>
<rect x="223.9" y="95.32" width="2.67" height="2.3" fill="#d6ced4"/>
<rect x="225.48" y="97.81" width="2.67" height="1.83" fill="#d6ced4"/>
<rect x="214.61" y="109.71" width="1.9" height="1.94" fill="#d6ced4"/>
<rect x="208.22" y="109.93" width="2.3" height="2.25" fill="#d6ced4"/>
<rect x="217.05" y="112.73" width="2.6" height="2.17" fill="#d6ced4"/>
<rect x="211.12" y="108.27" width="1.85" height="1.64" fill="#d6ced4"/>
<rect x="185.33" y="104.53" width="2.45" height="2.1" fill="#d6ced4"/>
<rect x="193.47" y="107.56" width="1.82" height="1.67" fill="#d6ced4"/>
<rect x="221.09" y="108.78" width="2.75" height="2.15" fill="#d6ced4"/>
<rect x="213.98" y="111.17" width="2.52" height="2.14" fill="#d6ced4"/>
<rect x="215.48" y="111.51" width="3.57" height="1.58" fill="#d6ced4"/>
<rect x="220.71" y="110.51" width="3.07" height="1.7" fill="#d6ced4"/>
<rect x="218.98" y="108.57" width="2.84" height="1.68" fill="#d6ced4"/>
<rect x="196.8" y="107.33" width="2.98" height="2.15" fill="#d6ced4"/>
<rect x="195.8" y="108.42" width="2.44" height="1.72" fill="#d6ced4"/>
<rect x="218.78" y="109.9" width="1.97" height="1.77" fill="#d6ced4"/>
<rect x="211.83" y="108.52" width="3.14" height="1.94" fill="#d6ced4"/>
<rect x="209.22" y="108.03" width="1.99" height="1.61" fill="#d6ced4"/>
<rect x="227.36" y="109.05" width="1.82" height="1.9" fill="#d6ced4"/>
<rect x="228.05" y="108.28" width="2.77" height="2.26" fill="#d6ced4"/>
<rect x="225.47" y="111.85" width="2.38" height="2.1" fill="#d6ced4"/>
<rect x="224.21" y="112.85" width="2.57" height="2.27" fill="#d6ced4"/>
<rect x="225.67" y="109.64" width="3.07" height="1.64" fill="#d6ced4"/>
<polyline points="186,63.6 193.3,70.8 196,70" fill="none" stroke="#d6ccd2" stroke-width="2.1" stroke-linejoin="round" stroke-linecap="round" opacity="0.75"/>
<polyline points="201.1,61.8 205.3,72 209.5,69" fill="none" stroke="#d6ccd2" stroke-width="2.1" stroke-linejoin="round" stroke-linecap="round" opacity="0.75"/>
<polyline points="211.3,64.8 216.1,68.4" fill="none" stroke="#d6ccd2" stroke-width="2.1" stroke-linejoin="round" stroke-linecap="round" opacity="0.75"/>
<polyline points="190.8,94 195.7,91.6 198.1,94.6 204.1,95.8 208.9,93.4 212.5,97" fill="none" stroke="#d6ccd2" stroke-width="2.1" stroke-linejoin="round" stroke-linecap="round" opacity="0.75"/>
<polyline points="213.7,91.6 218.6,87.4 223.4,91 225.8,88.6" fill="none" stroke="#d6ccd2" stroke-width="2.1" stroke-linejoin="round" stroke-linecap="round" opacity="0.75"/>
<polyline points="228.2,95.8 231.8,92.2 234.8,95.2" fill="none" stroke="#d6ccd2" stroke-width="2.1" stroke-linejoin="round" stroke-linecap="round" opacity="0.75"/>
<polyline points="181.7,82.9 188,87.9 191.7,84.1" fill="none" stroke="#d6ccd2" stroke-width="2.1" stroke-linejoin="round" stroke-linecap="round" opacity="0.75"/>
<polyline points="181.8,106.7 184.8,105.5 188.4,110.3" fill="none" stroke="#d6ccd2" stroke-width="2.1" stroke-linejoin="round" stroke-linecap="round" opacity="0.75"/>
<polyline points="222.2,113.9 225.8,110.3 229.4,112.7" fill="none" stroke="#d6ccd2" stroke-width="2.1" stroke-linejoin="round" stroke-linecap="round" opacity="0.75"/>
<polyline points="229,68 234,73 237,70" fill="none" stroke="#d6ccd2" stroke-width="2.1" stroke-linejoin="round" stroke-linecap="round" opacity="0.75"/>
<polyline points="186,63.6 193.3,70.8 196,70" fill="none" stroke="#e0404c" stroke-width="1.0" stroke-linejoin="round" stroke-dasharray="2,0.5"/>
<polyline points="201.1,61.8 205.3,72 209.5,69" fill="none" stroke="#e0404c" stroke-width="1.0" stroke-linejoin="round" stroke-dasharray="2,0.5"/>
<polyline points="211.3,64.8 216.1,68.4" fill="none" stroke="#e0404c" stroke-width="1.0" stroke-linejoin="round" stroke-dasharray="2,0.5"/>
<polyline points="190.8,94 195.7,91.6 198.1,94.6 204.1,95.8 208.9,93.4 212.5,97" fill="none" stroke="#e0404c" stroke-width="1.0" stroke-linejoin="round" stroke-dasharray="2,0.5"/>
<polyline points="213.7,91.6 218.6,87.4 223.4,91 225.8,88.6" fill="none" stroke="#e0404c" stroke-width="1.0" stroke-linejoin="round" stroke-dasharray="2,0.5"/>
<polyline points="228.2,95.8 231.8,92.2 234.8,95.2" fill="none" stroke="#e0404c" stroke-width="1.0" stroke-linejoin="round" stroke-dasharray="2,0.5"/>
<polyline points="181.7,82.9 188,87.9 191.7,84.1" fill="none" stroke="#e0404c" stroke-width="1.0" stroke-linejoin="round" stroke-dasharray="2,0.5"/>
<polyline points="181.8,106.7 184.8,105.5 188.4,110.3" fill="none" stroke="#e0404c" stroke-width="1.0" stroke-linejoin="round" stroke-dasharray="2,0.5"/>
<polyline points="222.2,113.9 225.8,110.3 229.4,112.7" fill="none" stroke="#e0404c" stroke-width="1.0" stroke-linejoin="round" stroke-dasharray="2,0.5"/>
<polyline points="229,68 234,73 237,70" fill="none" stroke="#e0404c" stroke-width="1.0" stroke-linejoin="round" stroke-dasharray="2,0.5"/>
</g>
<path d="M181.3,64.6L224.2,70L237,65.8M224.2,70L224,115.4" stroke="#404a40" stroke-width="0.6" fill="none" opacity="0.7"/>
<polygon points="181.3,64.6 193,60.4 237,65.8 237,110 224,115.4 181.5,110" fill="none" stroke="#4c5a4c" stroke-width="0.5" opacity="0.5"/>
<clipPath id="cb2"><polygon points="250.8,64.6 264.3,60.4 305.5,66.4 305.2,109.7 288.4,115.1 251,109.7"/></clipPath>
<g clip-path="url(#cb2)">
<polygon points="250.8,64.6 264.3,60.4 305.5,66.4 305.2,109.7 288.4,115.1 251,109.7" fill="#65b55d"/>
<polygon points="250.8,64.6 264.3,60.4 305.5,66.4 288.4,70.7" fill="#70c267"/>
<path d="M265.75,97.44h0.8M260.83,79.94h0.8M285.52,81.08h0.8M284.51,108.95h0.8M278.42,91.46h0.8M288.53,85.19h0.8M271.84,72.98h0.8M278.98,62.16h0.8M283.26,92.92h0.8M276.44,114.71h0.8M291.1,114.52h0.8M257.73,114.56h0.8M296.76,95.91h0.8M294.43,88.38h0.8M298.39,99.33h0.8M275.64,89.74h0.8M266.1,95.61h0.8M293.86,87.24h0.8M297.57,102.56h0.8M294.38,68.7h0.8M252.81,79.31h0.8M257.22,70.34h0.8M284.55,109.73h0.8M262.11,94.82h0.8M261.58,96.96h0.8M269.37,77.65h0.8M283.79,98.41h0.8M288.75,85.92h0.8M302.27,93.77h0.8M305.22,98.23h0.8M267.77,82.73h0.8M274.03,105.26h0.8M278.5,111.91h0.8M263.66,92.09h0.8M266.47,107.14h0.8M301.87,81.6h0.8M275.33,63.91h0.8M274.92,112.61h0.8M287.56,73.79h0.8M299.78,74.17h0.8M295.68,106.91h0.8M256.24,109.44h0.8M271.28,99.95h0.8M299.92,112.35h0.8M276.46,80.19h0.8M287.5,93.52h0.8M305.1,82.01h0.8M289.15,114.97h0.8M272.75,96.29h0.8M262.26,80.63h0.8M291.38,64.97h0.8M284.88,100.99h0.8M290.78,102.85h0.8M251.66,107.42h0.8M252.12,79.61h0.8M256.88,103.57h0.8M257.62,91.46h0.8M278.82,76.48h0.8M273.44,63.37h0.8M281.33,85.53h0.8M297.3,68.87h0.8M273.03,93.89h0.8M273.41,60.99h0.8M290.97,99.38h0.8M252.36,66.43h0.8M285.97,106.77h0.8M255.09,74.67h0.8M268.78,87.15h0.8M302.57,91.46h0.8M272.38,76.77h0.8M270.92,83.88h0.8M274.35,85.06h0.8M254.18,89.27h0.8M262.98,65.83h0.8M277.28,73h0.8M251.29,82.64h0.8M283.26,112.96h0.8M270.98,76.87h0.8M268.04,87.62h0.8M253.7,65.48h0.8M294.32,83.68h0.8M266.43,97.59h0.8M296.29,78.35h0.8M293.92,95.53h0.8M253.42,94.57h0.8M285.74,61.62h0.8M282.52,60.71h0.8M287.98,114.21h0.8M293.54,84.5h0.8M275.29,84.3h0.8M290.99,64.31h0.8M287.24,90.38h0.8M267.76,112.58h0.8M262.35,83.09h0.8M257.55,108.19h0.8M274.43,81.05h0.8M277.8,98.12h0.8M256.56,101.01h0.8M261.86,79.34h0.8M283.15,88.84h0.8M296.87,80h0.8M304.44,78.34h0.8M265.09,100.35h0.8M254.31,105.52h0.8M274.47,94.18h0.8M300.56,85.33h0.8M292,66h0.8M252.72,98.61h0.8M269.02,68.69h0.8M294.87,65.74h0.8M261.7,89.66h0.8M292.64,92.26h0.8M288.5,80.31h0.8M266.71,107.31h0.8M264.43,61.51h0.8M266.83,74.23h0.8M265.71,75.99h0.8M298.6,69.16h0.8M284.13,90.15h0.8M286.9,110.68h0.8M253.77,111.63h0.8M263.57,85.17h0.8M302.42,88.06h0.8M263.5,112.36h0.8M286.75,64.33h0.8M281.73,66.95h0.8M298.5,63.76h0.8M252.42,91.63h0.8M297.59,103.33h0.8M279.63,70.5h0.8M278.1,71.2h0.8M277.38,64.7h0.8M304,91.11h0.8M269.16,98.8h0.8M302.76,111.02h0.8M251.9,87.19h0.8M284.32,93.94h0.8M279.2,112.88h0.8M298.34,112.76h0.8M296.19,98.06h0.8M292.23,104.59h0.8M294.24,113.75h0.8M269.15,79.37h0.8M265.15,92.43h0.8M287.72,85.28h0.8M260.41,68.6h0.8M293.67,78.61h0.8M265.04,88.99h0.8M260.89,73.1h0.8M290.54,97.27h0.8M255.1,102.16h0.8M273.47,114.54h0.8M300.63,114.58h0.8M293.99,103.19h0.8M271.56,76.1h0.8M276.83,105.16h0.8M271.61,63.96h0.8M262.05,108.43h0.8M269.5,111.31h0.8M302.52,70.94h0.8" stroke="#5aaa55" stroke-width="0.8" opacity="0.6"/>
<path d="M302.64,78.03h0.8M304.92,68.5h0.8M286.02,72.01h0.8M297.64,94.79h0.8M257.04,106.21h0.8M287.2,83.34h0.8M283.66,91.73h0.8M285.12,84.84h0.8M301.76,68.71h0.8M291.17,77.52h0.8M272.79,107.85h0.8M277.66,73.21h0.8M302.09,105.76h0.8M305.15,63.95h0.8M264.51,104.55h0.8M298.15,71.12h0.8M254.82,90.76h0.8M264.03,104.16h0.8M280.85,109.94h0.8M270.81,65.89h0.8M298.11,106.01h0.8M272.06,106.85h0.8M254.73,114.44h0.8M298.75,100.2h0.8M274.36,61.24h0.8M285.25,75.64h0.8M260.68,67.4h0.8M257.86,66.75h0.8M270.36,71.13h0.8M291.07,80.11h0.8M258.8,94.93h0.8M273.17,85.39h0.8M269.75,98.89h0.8M266.38,108.13h0.8M287.81,85.28h0.8M291.46,93.29h0.8M273.72,75.79h0.8M266.82,98.41h0.8M273.31,67.63h0.8M273.81,79.08h0.8M283.11,90.26h0.8M255.63,80.29h0.8M287.4,79.21h0.8M252.07,95.02h0.8M276.23,77.69h0.8M303.88,113.81h0.8M296.13,95.95h0.8M254.44,85.68h0.8M262.73,114.54h0.8M258.62,81.99h0.8M259.93,95.9h0.8M264.66,104.77h0.8M257.35,86.04h0.8M302.47,109.4h0.8M280.11,89.59h0.8M267.3,88.15h0.8M257.9,65.23h0.8M293.33,73.9h0.8M262.7,85.11h0.8M297.34,66.11h0.8M303.88,89.12h0.8M298.05,113.12h0.8M259.21,105.17h0.8M259.36,89.45h0.8M267.25,113.25h0.8M253.32,83.16h0.8M256.91,110.66h0.8M286.58,108.9h0.8M278.2,109.84h0.8M291.24,74.53h0.8M276.88,80.01h0.8M253.51,106.11h0.8M280.75,82.27h0.8M271.14,77.6h0.8M291.8,87.06h0.8M303.66,60.79h0.8M270.8,93.11h0.8M284.12,92.64h0.8M279.04,101.63h0.8M264.58,75.18h0.8M297.84,82.41h0.8M255.47,114.23h0.8M268.16,105.22h0.8M253.9,102.17h0.8M281,111.12h0.8M301.91,101.57h0.8M291.11,83.28h0.8M300.95,64.5h0.8M291.91,81.07h0.8M257.25,77.9h0.8M257.14,106.02h0.8M256.99,66.88h0.8M281.44,110.85h0.8M280.14,106.31h0.8M276.64,62.12h0.8M287.69,111.17h0.8M272.02,102.99h0.8M259.91,92.44h0.8M259.76,79.53h0.8M272.05,91.81h0.8M282.74,86.68h0.8M288.95,73.18h0.8M282.25,74.46h0.8M271.45,99.59h0.8M281.41,113.77h0.8M277.43,73.05h0.8M267.57,106.75h0.8M281.87,90.57h0.8M302.81,102.23h0.8M293.69,72.35h0.8M284.16,67.01h0.8M300,110.94h0.8M302.82,99.71h0.8M290.56,74.88h0.8M280.19,74.27h0.8M258,86.92h0.8M265.98,88.25h0.8M297.82,107.15h0.8M290.95,89.64h0.8M293.2,74.61h0.8M270.64,103.46h0.8M271.07,100.29h0.8M281.76,79.48h0.8M256.83,111.84h0.8M300.12,65.98h0.8M304.89,77.32h0.8M287.25,64.11h0.8M304.56,97.88h0.8M279.31,64.62h0.8M279.61,79.78h0.8M289.37,83.22h0.8M277.44,90.9h0.8M258.18,76.82h0.8M302.16,113.79h0.8M297.77,111.54h0.8M283.11,97.91h0.8M301.85,65.13h0.8M252.54,66.51h0.8M252.12,62.15h0.8M279.23,92.13h0.8M250.84,64.11h0.8M296.39,82.7h0.8M251.62,102.53h0.8M279.58,78.75h0.8M263.62,108.64h0.8M264.66,86.6h0.8M263.83,96.19h0.8M264.74,108.37h0.8M267.29,78.43h0.8M294.03,89.94h0.8M264.17,72.32h0.8M271.08,79.9h0.8M271.98,67.81h0.8M269.3,103.64h0.8M283.25,100.96h0.8M251.56,87.69h0.8M300.82,68.25h0.8M303.34,111.35h0.8M258.55,99.48h0.8M258.22,97.5h0.8" stroke="#8ad282" stroke-width="0.8" opacity="0.6"/>
<rect x="282.79" y="77.55" width="3.51" height="1.86" fill="#d6ced4"/>
<rect x="263.62" y="71.79" width="2.29" height="2.25" fill="#d6ced4"/>
<rect x="252.32" y="70.28" width="2.43" height="1.54" fill="#d6ced4"/>
<rect x="261.16" y="71.68" width="2.02" height="1.92" fill="#d6ced4"/>
<rect x="269.93" y="74.8" width="3.17" height="1.92" fill="#d6ced4"/>
<rect x="285.21" y="75.07" width="2.2" height="1.56" fill="#d6ced4"/>
<rect x="261.26" y="74.29" width="3.46" height="1.9" fill="#d6ced4"/>
<rect x="255.65" y="71.46" width="2.82" height="1.74" fill="#d6ced4"/>
<rect x="279.42" y="78.11" width="2.63" height="1.98" fill="#d6ced4"/>
<rect x="281.41" y="76.17" width="2.14" height="2.26" fill="#d6ced4"/>
<rect x="286.37" y="75" width="3.17" height="1.82" fill="#d6ced4"/>
<rect x="251.58" y="70.06" width="2.11" height="2.09" fill="#d6ced4"/>
<rect x="257.58" y="70.37" width="2.2" height="2.14" fill="#d6ced4"/>
<rect x="268.39" y="74.94" width="2.64" height="1.65" fill="#d6ced4"/>
<rect x="250.2" y="70.48" width="1.87" height="1.71" fill="#d6ced4"/>
<rect x="272.88" y="74.38" width="2.65" height="2" fill="#d6ced4"/>
<rect x="292.61" y="75.19" width="3.39" height="1.96" fill="#d6ced4"/>
<rect x="294.31" y="75.55" width="2.63" height="1.77" fill="#d6ced4"/>
<rect x="302.79" y="71.99" width="3.48" height="2.18" fill="#d6ced4"/>
<rect x="302.25" y="71.83" width="2.72" height="2.29" fill="#d6ced4"/>
<rect x="292.12" y="74.5" width="3.1" height="1.69" fill="#d6ced4"/>
<rect x="297.16" y="73.13" width="3.51" height="1.73" fill="#d6ced4"/>
<rect x="253.34" y="87.55" width="2.42" height="1.95" fill="#d6ced4"/>
<rect x="268.35" y="90.9" width="2.73" height="1.8" fill="#d6ced4"/>
<rect x="249.76" y="86.14" width="2.28" height="1.96" fill="#d6ced4"/>
<rect x="273.4" y="89.61" width="1.96" height="1.9" fill="#d6ced4"/>
<rect x="267.77" y="89.55" width="3.55" height="1.72" fill="#d6ced4"/>
<rect x="266.3" y="86.84" width="3.24" height="1.69" fill="#d6ced4"/>
<rect x="280.79" y="92.24" width="2.26" height="2.22" fill="#d6ced4"/>
<rect x="268.6" y="88.72" width="2.8" height="2.26" fill="#d6ced4"/>
<rect x="268.07" y="88.89" width="2.32" height="2.17" fill="#d6ced4"/>
<rect x="268.56" y="88.34" width="2.15" height="1.67" fill="#d6ced4"/>
<rect x="280.98" y="92.3" width="3.56" height="2.23" fill="#d6ced4"/>
<rect x="275.39" y="91.42" width="3.08" height="2.15" fill="#d6ced4"/>
<rect x="279.75" y="89.32" width="3.27" height="1.74" fill="#d6ced4"/>
<rect x="258.86" y="89.44" width="1.84" height="1.91" fill="#d6ced4"/>
<rect x="262.57" y="89.43" width="2.9" height="2.23" fill="#d6ced4"/>
<rect x="284.67" y="92.15" width="1.92" height="2.03" fill="#d6ced4"/>
<rect x="289.05" y="93.5" width="3.37" height="1.75" fill="#d6ced4"/>
<rect x="290.35" y="91.86" width="3.16" height="2.29" fill="#d6ced4"/>
<rect x="297.76" y="87.24" width="3.11" height="1.55" fill="#d6ced4"/>
<rect x="301.9" y="88.86" width="3.21" height="2.2" fill="#d6ced4"/>
<rect x="296.84" y="91.08" width="2.95" height="1.89" fill="#d6ced4"/>
<rect x="293.72" y="89.39" width="1.84" height="1.63" fill="#d6ced4"/>
<rect x="279.55" y="109.56" width="2.98" height="2.12" fill="#d6ced4"/>
<rect x="275.77" y="110.29" width="2.37" height="1.72" fill="#d6ced4"/>
<rect x="256.8" y="108.13" width="3.04" height="2.25" fill="#d6ced4"/>
<rect x="262.16" y="110.16" width="3.44" height="1.73" fill="#d6ced4"/>
<rect x="285.41" y="112.15" width="3.53" height="2.12" fill="#d6ced4"/>
<rect x="262.25" y="107.27" width="2.74" height="1.89" fill="#d6ced4"/>
<rect x="251.12" y="108.27" width="2.76" height="1.88" fill="#d6ced4"/>
<rect x="277.64" y="109.38" width="2.16" height="1.96" fill="#d6ced4"/>
<rect x="258.82" y="106.98" width="1.93" height="1.54" fill="#d6ced4"/>
<rect x="263.08" y="108.5" width="3.51" height="2.01" fill="#d6ced4"/>
<rect x="265.29" y="108.28" width="2.22" height="1.88" fill="#d6ced4"/>
<rect x="285.67" y="109.98" width="2.58" height="2.05" fill="#d6ced4"/>
<rect x="278.31" y="110.83" width="2.95" height="2.25" fill="#d6ced4"/>
<rect x="283.55" y="110.24" width="2.77" height="2.3" fill="#d6ced4"/>
<rect x="269.53" y="107.92" width="3.18" height="1.55" fill="#d6ced4"/>
<rect x="255.41" y="107.49" width="2.29" height="2.08" fill="#d6ced4"/>
<rect x="299.42" y="107.21" width="3.18" height="2.02" fill="#d6ced4"/>
<rect x="299.07" y="107.92" width="2.58" height="1.59" fill="#d6ced4"/>
<rect x="295.18" y="111.34" width="3.4" height="1.54" fill="#d6ced4"/>
<rect x="288.4" y="110.48" width="3.05" height="1.85" fill="#d6ced4"/>
<rect x="289.35" y="110.87" width="2.83" height="2.1" fill="#d6ced4"/>
<rect x="293.98" y="110.38" width="3.03" height="1.99" fill="#d6ced4"/>
<rect x="251.47" y="92.82" width="2.03" height="1.54" fill="#d6ced4"/>
<rect x="267.46" y="89.02" width="1.93" height="1.81" fill="#d6ced4"/>
<rect x="267.27" y="89.79" width="3.52" height="2.18" fill="#d6ced4"/>
<rect x="267.96" y="94.21" width="2.37" height="2.29" fill="#d6ced4"/>
<rect x="254.21" y="89.58" width="2.2" height="2.19" fill="#d6ced4"/>
<rect x="268.79" y="92.75" width="2.52" height="2.21" fill="#d6ced4"/>
<rect x="259.38" y="94.74" width="3.07" height="1.86" fill="#d6ced4"/>
<rect x="263.43" y="92.17" width="2.62" height="1.75" fill="#d6ced4"/>
<rect x="273.1" y="93.41" width="2.35" height="2.12" fill="#d6ced4"/>
<rect x="266.78" y="93.01" width="3.38" height="1.86" fill="#d6ced4"/>
<rect x="263.89" y="95.08" width="2.96" height="1.5" fill="#d8d2d8"/>
<rect x="269.21" y="90.61" width="2.51" height="1.5" fill="#d8d2d8"/>
<rect x="268.63" y="89.67" width="2.59" height="1.5" fill="#d8d2d8"/>
<rect x="271.35" y="92.9" width="2.5" height="1.5" fill="#d8d2d8"/>
<rect x="264.66" y="92.88" width="1.84" height="1.5" fill="#d8d2d8"/>
<rect x="269.01" y="91.85" width="2.97" height="1.5" fill="#d8d2d8"/>
<rect x="263.44" y="93.41" width="1.53" height="1.5" fill="#d8d2d8"/>
<rect x="264.41" y="93.9" width="1.89" height="1.5" fill="#d8d2d8"/>
<rect x="266.98" y="88.99" width="2.1" height="1.5" fill="#d8d2d8"/>
<rect x="271.92" y="88.77" width="2.87" height="1.5" fill="#d8d2d8"/>
<rect x="259.78" y="92.25" width="2.73" height="1.5" fill="#d8d2d8"/>
<rect x="269.89" y="90.52" width="2.39" height="1.5" fill="#d8d2d8"/>
<rect x="268.26" y="93.86" width="2.62" height="1.5" fill="#d8d2d8"/>
<rect x="266.53" y="89.26" width="2.56" height="1.5" fill="#d8d2d8"/>
<polyline points="250.4,65.2 255.2,71.3" fill="none" stroke="#d6ccd2" stroke-width="2.0" stroke-linejoin="round" stroke-linecap="round" opacity="0.75"/>
<polyline points="255.8,63.4 264.9,72.5" fill="none" stroke="#d6ccd2" stroke-width="2.0" stroke-linejoin="round" stroke-linecap="round" opacity="0.75"/>
<polyline points="261.3,61.6 269.1,69.4" fill="none" stroke="#d6ccd2" stroke-width="2.0" stroke-linejoin="round" stroke-linecap="round" opacity="0.75"/>
<polyline points="266,61 278.1,72.5" fill="none" stroke="#d6ccd2" stroke-width="2.0" stroke-linejoin="round" stroke-linecap="round" opacity="0.75"/>
<polyline points="276.9,62.8 282.9,68.8" fill="none" stroke="#d6ccd2" stroke-width="2.0" stroke-linejoin="round" stroke-linecap="round" opacity="0.75"/>
<polyline points="251,82.1 263.7,70" fill="none" stroke="#d6ccd2" stroke-width="2.0" stroke-linejoin="round" stroke-linecap="round" opacity="0.75"/>
<polyline points="250.4,73 255.2,68.8" fill="none" stroke="#d6ccd2" stroke-width="2.0" stroke-linejoin="round" stroke-linecap="round" opacity="0.75"/>
<polyline points="275.7,77.3 284.1,85.7" fill="none" stroke="#d6ccd2" stroke-width="2.0" stroke-linejoin="round" stroke-linecap="round" opacity="0.75"/>
<polyline points="275.7,85.7 286.6,76.1" fill="none" stroke="#d6ccd2" stroke-width="2.0" stroke-linejoin="round" stroke-linecap="round" opacity="0.75"/>
<polyline points="254,84 261.3,93.6 268,86" fill="none" stroke="#d6ccd2" stroke-width="2.0" stroke-linejoin="round" stroke-linecap="round" opacity="0.75"/>
<polyline points="266,88.8 272.1,96" fill="none" stroke="#d6ccd2" stroke-width="2.0" stroke-linejoin="round" stroke-linecap="round" opacity="0.75"/>
<polyline points="250.4,104.5 263.7,96" fill="none" stroke="#d6ccd2" stroke-width="2.0" stroke-linejoin="round" stroke-linecap="round" opacity="0.75"/>
<polyline points="269.7,108.1 287.8,91.2" fill="none" stroke="#d6ccd2" stroke-width="2.0" stroke-linejoin="round" stroke-linecap="round" opacity="0.75"/>
<polyline points="276.9,96 284.1,88.8" fill="none" stroke="#d6ccd2" stroke-width="2.0" stroke-linejoin="round" stroke-linecap="round" opacity="0.75"/>
<polyline points="275.7,84 282.9,91.2" fill="none" stroke="#d6ccd2" stroke-width="2.0" stroke-linejoin="round" stroke-linecap="round" opacity="0.75"/>
<polyline points="288.7,81.7 301.7,68.7" fill="none" stroke="#d6ccd2" stroke-width="2.0" stroke-linejoin="round" stroke-linecap="round" opacity="0.75"/>
<polyline points="290.9,94.8 306,77.4" fill="none" stroke="#d6ccd2" stroke-width="2.0" stroke-linejoin="round" stroke-linecap="round" opacity="0.75"/>
<polyline points="293,110 307,94.8" fill="none" stroke="#d6ccd2" stroke-width="2.0" stroke-linejoin="round" stroke-linecap="round" opacity="0.75"/>
<polyline points="291,70 295,76" fill="none" stroke="#d6ccd2" stroke-width="2.0" stroke-linejoin="round" stroke-linecap="round" opacity="0.75"/>
<polyline points="284,72 288,68" fill="none" stroke="#d6ccd2" stroke-width="2.0" stroke-linejoin="round" stroke-linecap="round" opacity="0.75"/>
<polyline points="252,100 256,106" fill="none" stroke="#d6ccd2" stroke-width="2.0" stroke-linejoin="round" stroke-linecap="round" opacity="0.75"/>
<polyline points="262,110 266,106" fill="none" stroke="#d6ccd2" stroke-width="2.0" stroke-linejoin="round" stroke-linecap="round" opacity="0.75"/>
<polyline points="270,58 276,62" fill="none" stroke="#d6ccd2" stroke-width="2.0" stroke-linejoin="round" stroke-linecap="round" opacity="0.75"/>
<polyline points="250.4,65.2 255.2,71.3" fill="none" stroke="#e0404c" stroke-width="0.9" stroke-linejoin="round" stroke-dasharray="2,0.5"/>
<polyline points="255.8,63.4 264.9,72.5" fill="none" stroke="#e0404c" stroke-width="0.9" stroke-linejoin="round" stroke-dasharray="2,0.5"/>
<polyline points="261.3,61.6 269.1,69.4" fill="none" stroke="#e0404c" stroke-width="0.9" stroke-linejoin="round" stroke-dasharray="2,0.5"/>
<polyline points="266,61 278.1,72.5" fill="none" stroke="#e0404c" stroke-width="0.9" stroke-linejoin="round" stroke-dasharray="2,0.5"/>
<polyline points="276.9,62.8 282.9,68.8" fill="none" stroke="#e0404c" stroke-width="0.9" stroke-linejoin="round" stroke-dasharray="2,0.5"/>
<polyline points="251,82.1 263.7,70" fill="none" stroke="#e0404c" stroke-width="0.9" stroke-linejoin="round" stroke-dasharray="2,0.5"/>
<polyline points="250.4,73 255.2,68.8" fill="none" stroke="#e0404c" stroke-width="0.9" stroke-linejoin="round" stroke-dasharray="2,0.5"/>
<polyline points="275.7,77.3 284.1,85.7" fill="none" stroke="#e0404c" stroke-width="0.9" stroke-linejoin="round" stroke-dasharray="2,0.5"/>
<polyline points="275.7,85.7 286.6,76.1" fill="none" stroke="#e0404c" stroke-width="0.9" stroke-linejoin="round" stroke-dasharray="2,0.5"/>
<polyline points="254,84 261.3,93.6 268,86" fill="none" stroke="#e0404c" stroke-width="0.9" stroke-linejoin="round" stroke-dasharray="2,0.5"/>
<polyline points="266,88.8 272.1,96" fill="none" stroke="#e0404c" stroke-width="0.9" stroke-linejoin="round" stroke-dasharray="2,0.5"/>
<polyline points="250.4,104.5 263.7,96" fill="none" stroke="#e0404c" stroke-width="0.9" stroke-linejoin="round" stroke-dasharray="2,0.5"/>
<polyline points="269.7,108.1 287.8,91.2" fill="none" stroke="#e0404c" stroke-width="0.9" stroke-linejoin="round" stroke-dasharray="2,0.5"/>
<polyline points="276.9,96 284.1,88.8" fill="none" stroke="#e0404c" stroke-width="0.9" stroke-linejoin="round" stroke-dasharray="2,0.5"/>
<polyline points="275.7,84 282.9,91.2" fill="none" stroke="#e0404c" stroke-width="0.9" stroke-linejoin="round" stroke-dasharray="2,0.5"/>
<polyline points="288.7,81.7 301.7,68.7" fill="none" stroke="#e0404c" stroke-width="0.9" stroke-linejoin="round" stroke-dasharray="2,0.5"/>
<polyline points="290.9,94.8 306,77.4" fill="none" stroke="#e0404c" stroke-width="0.9" stroke-linejoin="round" stroke-dasharray="2,0.5"/>
<polyline points="293,110 307,94.8" fill="none" stroke="#e0404c" stroke-width="0.9" stroke-linejoin="round" stroke-dasharray="2,0.5"/>
<polyline points="291,70 295,76" fill="none" stroke="#e0404c" stroke-width="0.9" stroke-linejoin="round" stroke-dasharray="2,0.5"/>
<polyline points="284,72 288,68" fill="none" stroke="#e0404c" stroke-width="0.9" stroke-linejoin="round" stroke-dasharray="2,0.5"/>
<polyline points="252,100 256,106" fill="none" stroke="#e0404c" stroke-width="0.9" stroke-linejoin="round" stroke-dasharray="2,0.5"/>
<polyline points="262,110 266,106" fill="none" stroke="#e0404c" stroke-width="0.9" stroke-linejoin="round" stroke-dasharray="2,0.5"/>
<polyline points="270,58 276,62" fill="none" stroke="#e0404c" stroke-width="0.9" stroke-linejoin="round" stroke-dasharray="2,0.5"/>
</g>
<path d="M250.8,64.6L288.4,70.7L305.5,66.4M288.4,70.7L288.4,115.1" stroke="#404a40" stroke-width="0.6" fill="none" opacity="0.7"/>
<polygon points="250.8,64.6 264.3,60.4 305.5,66.4 305.2,109.7 288.4,115.1 251,109.7" fill="none" stroke="#4c5a4c" stroke-width="0.5" opacity="0.5"/>
<clipPath id="cb3"><polygon points="447,63.4 456.9,59.5 501.5,64 500.7,105.1 486.5,112.3 447.2,106.6"/></clipPath>
<g clip-path="url(#cb3)">
<polygon points="447,63.4 456.9,59.5 501.5,64 500.7,105.1 486.5,112.3 447.2,106.6" fill="#65b55d"/>
<polygon points="447,63.4 456.9,59.5 501.5,64 486.4,70.7" fill="#70c267"/>
<path d="M477.59,88.24h0.8M489.55,76.65h0.8M461.96,89.45h0.8M456.1,92.52h0.8M462.76,102.06h0.8M480.02,83.81h0.8M478.03,109.84h0.8M451.11,75.36h0.8M492.15,79.57h0.8M476.28,60.78h0.8M455.1,75.93h0.8M460.61,68.89h0.8M490.28,98.52h0.8M484.9,60.98h0.8M458.52,96.64h0.8M494.87,71.03h0.8M471.08,102.39h0.8M500.79,71.3h0.8M455.19,110.41h0.8M470.5,103.2h0.8M456.34,78.25h0.8M495.11,105.56h0.8M459.47,97.44h0.8M450.41,103.91h0.8M452.19,61.84h0.8M479.71,105.03h0.8M448.14,96.3h0.8M483.35,96.22h0.8M462.75,89.14h0.8M460.56,74.93h0.8M463.92,90.76h0.8M493.11,84.27h0.8M495.35,99.31h0.8M484.73,85.93h0.8M474.48,84.24h0.8M489.98,106.63h0.8M463.41,61.18h0.8M462.56,69.6h0.8M484.26,96.02h0.8M468.66,88.69h0.8M496.98,103.61h0.8M499.92,88.2h0.8M493.98,86.79h0.8M501.13,60.21h0.8M481.85,65.34h0.8M470.74,99.75h0.8M456.44,84h0.8M458.82,83.1h0.8M478.49,92.85h0.8M482.79,70.82h0.8M465.2,110.07h0.8M481.71,73.35h0.8M488.33,62.52h0.8M454.66,70.15h0.8M472.81,110.09h0.8M492.12,69.24h0.8M497.98,61.81h0.8M491.89,72.82h0.8M473.98,110.63h0.8M497,95.11h0.8M459.93,74.81h0.8M500.4,94.86h0.8M486.1,85.56h0.8M467.93,87.53h0.8M500.57,79.1h0.8M479.29,107.8h0.8M474.23,99.94h0.8M457.34,97.76h0.8M448.82,69.51h0.8M480.77,98.88h0.8M449.81,103.07h0.8M449.05,61h0.8M451.71,61.96h0.8M496.94,61.47h0.8M457.41,65.42h0.8M456.16,68.4h0.8M455.15,89.5h0.8M472.85,61.6h0.8M465.3,59.99h0.8M468.37,88.11h0.8M467.9,96.89h0.8M496.5,61.66h0.8M487.89,100.91h0.8M457.12,80.27h0.8M453.14,111.23h0.8M466.73,91.47h0.8M478.45,106.49h0.8M482.74,110.21h0.8M477.74,66.45h0.8M481.27,74.27h0.8M457.43,83.13h0.8M461.31,78.8h0.8M493.28,69.99h0.8M447.06,59.55h0.8M462,111.84h0.8M486.02,71.77h0.8M493.69,108.88h0.8M468.66,76.01h0.8M484.36,67.52h0.8M458.06,92.06h0.8M469.56,69.18h0.8M483.76,110.61h0.8M448.95,83.76h0.8M476.86,104.71h0.8M481.97,60.85h0.8M455.81,62.87h0.8M479.89,103.02h0.8M483.58,97.97h0.8M478.72,105.07h0.8M462.64,100.39h0.8M447.59,84.66h0.8M474.77,86.45h0.8M480.08,95.51h0.8M462.81,83.56h0.8M468.5,108.11h0.8M473.15,78.37h0.8M468.78,63.69h0.8M455.13,81.85h0.8M471.23,75.08h0.8M458.62,60.1h0.8M454.21,66.68h0.8M450.51,95.15h0.8M479.97,62.19h0.8M454.84,100.7h0.8M482.53,84.32h0.8M458.25,61.88h0.8M463.41,107.91h0.8M451.01,108.26h0.8M464.46,97.72h0.8M449.22,86.12h0.8M498.78,105.17h0.8M464.3,68.39h0.8M465.35,81.69h0.8M472.26,65.74h0.8M492.04,85.7h0.8M467.11,68.79h0.8M454.01,96.6h0.8M488.96,91.62h0.8M469.17,93.73h0.8M466.95,93.68h0.8M493.15,101.73h0.8M468.04,93.43h0.8M452.49,101.66h0.8M467.62,65.68h0.8M495.62,63.93h0.8M459.31,105.84h0.8M457.99,74.85h0.8M486.74,61.09h0.8M464.77,69.61h0.8M490.17,91.34h0.8M479.63,76.36h0.8M466.27,110.84h0.8M494.31,89.83h0.8M451.91,88.92h0.8M469.38,67.75h0.8M495.89,110h0.8M472.78,100.56h0.8M475.89,81.33h0.8M484.55,89.58h0.8M452.03,67.16h0.8" stroke="#5aaa55" stroke-width="0.8" opacity="0.6"/>
<path d="M500.8,66.71h0.8M486.6,109.68h0.8M475.79,85.65h0.8M495.69,94.52h0.8M469.89,67.17h0.8M475.88,111.83h0.8M466.22,99.57h0.8M484.71,95.94h0.8M461.91,78.42h0.8M467.41,94.2h0.8M494.56,108.79h0.8M453.42,64.03h0.8M461.41,85.32h0.8M491.63,104.88h0.8M485.11,77.3h0.8M472.83,76.06h0.8M478.06,91.67h0.8M459.14,92.22h0.8M465.6,82.73h0.8M496.89,95.25h0.8M485.5,70.91h0.8M459.34,78.73h0.8M449.57,96.23h0.8M476.61,90.29h0.8M466.24,111.49h0.8M450.41,64.88h0.8M456.61,73.9h0.8M464.57,84.18h0.8M466.4,78.51h0.8M461.22,60.36h0.8M461.64,65.46h0.8M474.89,75.97h0.8M480.93,94.32h0.8M469.52,80.09h0.8M475.83,87.64h0.8M459.21,60.67h0.8M490.4,92.26h0.8M494.34,103.65h0.8M487.58,83.5h0.8M494.98,111.84h0.8M451.05,72.54h0.8M475.06,75.86h0.8M500.97,63.49h0.8M455.08,80.07h0.8M477.65,109.1h0.8M479.26,90.25h0.8M496.07,95.1h0.8M476.62,77.28h0.8M447.97,71.12h0.8M450.97,99.73h0.8M477.45,64.85h0.8M491.39,97.74h0.8M448.86,101.63h0.8M448.63,68.13h0.8M464.51,73.19h0.8M481.61,91.98h0.8M477.69,79.71h0.8M485.97,69.28h0.8M460.08,74.23h0.8M450.59,69.35h0.8M493.03,96.49h0.8M481.22,79.73h0.8M450.21,85.48h0.8M449.66,60.97h0.8M464.99,67.33h0.8M456.83,85.91h0.8M477.8,72.11h0.8M451.26,105.16h0.8M472.49,104.06h0.8M488.48,97.64h0.8M455.05,68.07h0.8M494.79,79.62h0.8M493.13,91.26h0.8M453.13,74.64h0.8M457.93,93.31h0.8M476.19,79.33h0.8M474.68,79.99h0.8M480.52,69.71h0.8M495.38,90.53h0.8M498.22,66.47h0.8M467.28,96.82h0.8M462.51,74.96h0.8M485.12,108.33h0.8M493.48,99.92h0.8M487.36,105.22h0.8M499.25,106.91h0.8M501.44,103.81h0.8M454.83,80.82h0.8M489.55,62.78h0.8M464.59,91.54h0.8M493.72,111.61h0.8M484.81,69.52h0.8M477.34,77.42h0.8M447.11,76.83h0.8M481.75,62.95h0.8M473.24,97.65h0.8M469.94,76.28h0.8M487.42,83.95h0.8M489.66,110.54h0.8M455.83,61.37h0.8M486.82,89.72h0.8M450.18,64.69h0.8M491.93,95.6h0.8M467.28,65.46h0.8M459.5,61.07h0.8M475.97,66.26h0.8M465.77,65.85h0.8M495.18,88.76h0.8M483.91,110.97h0.8M481.49,84.23h0.8M461.35,91.26h0.8M450.2,66.45h0.8M500.98,101.36h0.8M474.56,101.95h0.8M473.38,80.51h0.8M501.48,61.95h0.8M483.95,67.46h0.8M479.81,99.82h0.8M467.05,106.4h0.8M495.28,85h0.8M495.53,99.05h0.8M458.65,83.04h0.8M497.98,77.2h0.8M452.95,61.46h0.8M496.08,101.25h0.8M479.89,84.34h0.8M458.36,93.46h0.8M498.71,92.13h0.8M496.24,101.47h0.8M454.63,88.35h0.8M460.56,88.64h0.8M487.53,99.59h0.8M484.96,97.92h0.8M452.21,68.45h0.8M482.12,78.75h0.8M500.12,91.47h0.8M479.59,91.88h0.8M494.77,110.7h0.8M467.4,81.18h0.8M466.21,78.08h0.8M483.85,104.04h0.8M460.69,76.15h0.8M497.21,75.48h0.8M454.75,93.2h0.8M460.88,99.58h0.8M466.23,84.5h0.8M470.14,74.19h0.8M481.81,101.88h0.8M453.53,63.59h0.8M447.82,83.43h0.8M448.9,81.73h0.8M466.61,108.21h0.8M453.87,102.15h0.8M452.3,64.39h0.8M501.06,90.02h0.8M488.31,93.6h0.8M483.48,67.84h0.8M475.09,97.15h0.8M489.99,103.07h0.8M449.57,67.97h0.8" stroke="#8ad282" stroke-width="0.8" opacity="0.6"/>
<polyline points="447.03,70.31 450.97,71.02 454.91,71.72 458.85,72.43 462.79,73.13 466.72,73.83 470.66,74.54 474.6,75.24 478.54,75.95 482.48,76.65 486.42,77.36" fill="none" stroke="#d4cacf" stroke-width="1.35" stroke-linejoin="round"/>
<polyline points="486.42,77.36 490.15,75.66 493.89,73.97 497.63,72.27 501.37,70.58" fill="none" stroke="#d4cacf" stroke-width="1.35" stroke-linejoin="round"/>
<polyline points="447.08,80.68 451.02,81.35 454.95,82.01 458.89,82.68 462.82,83.34 466.76,84.01 470.7,84.68 474.63,85.34 478.57,86.01 482.5,86.67 486.44,87.34" fill="none" stroke="#d4cacf" stroke-width="1.35" stroke-linejoin="round"/>
<polyline points="486.44,87.34 490.12,85.62 493.81,83.89 497.5,82.16 501.18,80.44" fill="none" stroke="#d4cacf" stroke-width="1.35" stroke-linejoin="round"/>
<polyline points="447.13,91.05 451.06,91.68 455,92.3 458.93,92.93 462.86,93.56 466.8,94.19 470.73,94.81 474.66,95.44 478.6,96.07 482.53,96.7 486.46,97.32" fill="none" stroke="#d4cacf" stroke-width="1.35" stroke-linejoin="round"/>
<polyline points="486.46,97.32 490.09,95.57 493.73,93.81 497.36,92.06 500.99,90.3" fill="none" stroke="#d4cacf" stroke-width="1.35" stroke-linejoin="round"/>
<polyline points="447.18,101.85 451.11,102.44 455.04,103.02 458.97,103.61 462.9,104.2 466.83,104.79 470.76,105.37 474.7,105.96 478.63,106.55 482.56,107.14 486.49,107.72" fill="none" stroke="#d4cacf" stroke-width="1.35" stroke-linejoin="round"/>
<polyline points="486.49,107.72 490.06,105.94 493.64,104.15 497.21,102.37 500.79,100.58" fill="none" stroke="#d4cacf" stroke-width="1.35" stroke-linejoin="round"/>
</g>
<path d="M447,63.4L486.4,70.7L501.5,64M486.4,70.7L486.5,112.3" stroke="#404a40" stroke-width="0.6" fill="none" opacity="0.7"/>
<polygon points="447,63.4 456.9,59.5 501.5,64 500.7,105.1 486.5,112.3 447.2,106.6" fill="none" stroke="#4c5a4c" stroke-width="0.5" opacity="0.5"/>
<clipPath id="cb4"><polygon points="514.2,64 534.1,59.6 567.4,68.3 567.7,108.2 545.3,113.2 514.2,106.1"/></clipPath>
<g clip-path="url(#cb4)">
<polygon points="514.2,64 534.1,59.6 567.4,68.3 567.7,108.2 545.3,113.2 514.2,106.1" fill="#65b55d"/>
<polygon points="514.2,64 534.1,59.6 567.4,68.3 545.5,73" fill="#70c267"/>
<path d="M516.62,80.34h0.8M518.45,82.42h0.8M515.82,76.58h0.8M521.53,91.24h0.8M523.63,65.24h0.8M526.55,98.41h0.8M524.31,76.5h0.8M530.4,83.82h0.8M556.66,73.63h0.8M546.35,111.01h0.8M567.24,70.35h0.8M530.39,83.3h0.8M525.11,107.72h0.8M516.91,74.91h0.8M564.63,91.5h0.8M527.33,98.8h0.8M517.57,62.33h0.8M535.59,89.89h0.8M550.28,77.59h0.8M528.64,62.37h0.8M520.35,61.18h0.8M561.22,78.91h0.8M515.49,65.04h0.8M540.59,78.03h0.8M556.59,104.39h0.8M550.26,84.34h0.8M542.3,103.51h0.8M554.43,92.63h0.8M516.85,85.06h0.8M523.01,89.78h0.8M540.37,99.02h0.8M514.58,71.64h0.8M555.78,74.35h0.8M553.33,62.85h0.8M515.99,85.3h0.8M561.57,109.7h0.8M528.83,95.63h0.8M536.15,84.94h0.8M564.5,109.53h0.8M526.42,72.7h0.8M546.64,78.34h0.8M515.24,64.47h0.8M559.18,61.84h0.8M556.28,107.71h0.8M565.93,111.67h0.8M554.15,100.73h0.8M542.3,95.1h0.8M522.05,111.64h0.8M565.58,110.52h0.8M559.6,103.61h0.8M553.35,104.4h0.8M517.48,98.76h0.8M567.2,83.56h0.8M551.31,79.3h0.8M562.35,98.38h0.8M525.17,83.78h0.8M520.01,59.8h0.8M526.33,71.47h0.8M563.05,95.87h0.8M546.78,98.82h0.8M532.35,63.43h0.8M550.64,108.43h0.8M557.43,111.04h0.8M538.79,60.38h0.8M560.37,92.41h0.8M558.64,93.08h0.8M559.82,100.99h0.8M562.2,80.87h0.8M532.99,112.79h0.8M551.15,64.81h0.8M520.85,91.65h0.8M532.36,111.98h0.8M526.31,60.36h0.8M529.8,85.78h0.8M542.81,63.11h0.8M557.83,100.87h0.8M560.56,99.32h0.8M554.21,104.62h0.8M522.64,90h0.8M521.39,111.51h0.8M566.68,80.22h0.8M528.09,71.29h0.8M531.31,95.22h0.8M561.76,108.99h0.8M519,90.78h0.8M564.96,66.4h0.8M514.27,102.11h0.8M557.99,86.2h0.8M551.65,61.7h0.8M550.48,65.85h0.8M531.82,100.96h0.8M542.33,74.38h0.8M532.9,100.94h0.8M514.27,111.24h0.8M545.71,62.94h0.8M546.96,92.94h0.8M526.68,71.46h0.8M540.61,82.11h0.8M530.98,103.93h0.8M515.78,92.26h0.8M551.76,72.06h0.8M553.1,72.71h0.8M563.19,109.09h0.8M533.93,108.38h0.8M516.46,106.79h0.8M533.25,70.52h0.8M549.4,64.77h0.8M537.82,102.91h0.8M527.26,80.68h0.8M543.84,88.36h0.8M551.36,71.58h0.8M529.25,89.25h0.8M536.49,62.28h0.8M559.63,106.83h0.8M523.3,98.52h0.8M514.43,66.38h0.8M546.63,85.14h0.8M521.52,66.76h0.8M557.05,103.91h0.8M521.9,85.93h0.8M550.67,102.93h0.8M558.87,104.04h0.8M532.68,62.62h0.8M566.97,75.12h0.8M566.03,100.17h0.8M528.73,92.66h0.8M565.16,86.71h0.8M517.7,84.34h0.8M557.96,99.23h0.8M537.8,62.55h0.8M536.02,67.38h0.8M520.62,63.85h0.8M558.46,92.3h0.8M522.74,74.41h0.8M548.77,93.5h0.8M537.29,104.85h0.8M528.08,62.09h0.8M564,70.67h0.8M515.73,102.88h0.8M515.02,90.49h0.8M562.98,99.65h0.8M529.69,100.31h0.8M550.49,107.4h0.8M545.35,73.39h0.8M520.26,61.73h0.8M519.55,101.23h0.8M528.81,79.08h0.8M558.85,112.14h0.8M547.5,90.8h0.8M544.68,72.84h0.8M552.74,71.66h0.8M537.42,104.97h0.8M546.61,89.24h0.8M543.77,72.25h0.8M561.63,110.34h0.8M541.93,83.94h0.8M518.76,71.82h0.8M524.55,63.88h0.8M548.58,91.77h0.8M546.97,75.44h0.8" stroke="#5aaa55" stroke-width="0.8" opacity="0.6"/>
<path d="M533.42,61.34h0.8M564.61,104.49h0.8M533.92,76.28h0.8M559.09,80.06h0.8M515.01,100.62h0.8M556.51,64.07h0.8M555.34,99.09h0.8M533.2,84.88h0.8M557.56,108.91h0.8M564.38,68.77h0.8M557.25,66.1h0.8M559.1,96.09h0.8M560.5,86.93h0.8M529.85,82.05h0.8M558.05,63.42h0.8M532.41,71.79h0.8M536.26,88.88h0.8M529.76,60.5h0.8M540.49,79.85h0.8M530.07,75.57h0.8M539.92,60.65h0.8M537.94,87.78h0.8M556.22,89.43h0.8M554.39,86.57h0.8M562.02,98.51h0.8M542.74,90.64h0.8M560.11,62.39h0.8M546.21,108.28h0.8M534.28,110.43h0.8M521.92,100.01h0.8M530.63,106.95h0.8M553.44,106.71h0.8M518.53,97.62h0.8M564.21,87.89h0.8M532.29,65.19h0.8M520.84,83.49h0.8M520.07,77.48h0.8M537.48,91.55h0.8M562.74,104.03h0.8M538.8,94.08h0.8M567.26,76.34h0.8M525.4,98.77h0.8M526.88,72.59h0.8M528.29,65.09h0.8M552.54,84.93h0.8M541.45,74.14h0.8M531.55,93.87h0.8M525.51,71.73h0.8M563.7,104.69h0.8M544.52,63.58h0.8M559.02,61.93h0.8M540.3,107.5h0.8M550.34,95.25h0.8M548.41,63.23h0.8M557.14,84.38h0.8M550.61,88.98h0.8M535.48,72.72h0.8M536.44,96.86h0.8M515.31,106.1h0.8M547.03,78.59h0.8M549.73,62.5h0.8M549.93,92.09h0.8M557.67,112.67h0.8M547.07,93.82h0.8M533.64,59.85h0.8M566.91,91.41h0.8M567.21,84.38h0.8M514.8,77.06h0.8M535.33,74.33h0.8M530.54,80.77h0.8M536.83,102.59h0.8M524.67,88.05h0.8M530.34,107.6h0.8M542.23,73.86h0.8M532.89,74.85h0.8M551.69,91.49h0.8M517.16,66.59h0.8M567.13,101.15h0.8M547.6,92.01h0.8M541.51,74.01h0.8M517.94,95.47h0.8M530.39,92.14h0.8M562.63,112.71h0.8M527.74,103.77h0.8M518.24,64.91h0.8M552.57,87.85h0.8M517.45,107.13h0.8M538.08,61.09h0.8M542.35,109.2h0.8M552.78,97.21h0.8M545.16,81.77h0.8M529.56,107.24h0.8M533.83,69.8h0.8M554.41,112.23h0.8M522.94,62.24h0.8M565.32,75.47h0.8M522.07,61.13h0.8M533.89,110.58h0.8M542.69,65.11h0.8M560.98,62.3h0.8M550.96,104.25h0.8M522.55,111.44h0.8M543.15,62.35h0.8M517.78,75.43h0.8M533.12,64.01h0.8M537.38,92.62h0.8M542.79,62.61h0.8M528.24,103.69h0.8M556.6,59.79h0.8M552.44,110.41h0.8M524.85,85.42h0.8M518.99,96.79h0.8M520.65,109.73h0.8M535.05,112.36h0.8M564.59,70.78h0.8M518.67,102.67h0.8M520.33,94.04h0.8M545.97,94.09h0.8M521.54,75.9h0.8M515.72,106.1h0.8M540.33,108.49h0.8M557.32,71.18h0.8M555.09,84.98h0.8M537.27,106.04h0.8M561.42,109.11h0.8M517.6,95.87h0.8M522,90.11h0.8M518.49,81.97h0.8M559.86,84.12h0.8M556.42,90.14h0.8M538.73,62.97h0.8M536.93,66.96h0.8M560.58,89.27h0.8M559.12,90.95h0.8M516.77,70.31h0.8M564.68,91.28h0.8M544.1,81.53h0.8M525.16,60.45h0.8M560.81,67.84h0.8M527.39,92.54h0.8M529.18,92.12h0.8M528.01,106.2h0.8M532.7,110.74h0.8M548.81,76.24h0.8M546.86,72.57h0.8M521.8,100.06h0.8M564.09,104.01h0.8M546.5,109.73h0.8M531.53,79.93h0.8M548.55,105.91h0.8M515.68,79.27h0.8M543.47,87.36h0.8M550.48,89.49h0.8M520.81,83.16h0.8M529.89,90.4h0.8M523.74,101.9h0.8M529.11,70.49h0.8M542.21,68.82h0.8M547.62,85.35h0.8M539.02,96.51h0.8" stroke="#8ad282" stroke-width="0.8" opacity="0.6"/>
<polyline points="514.2,69.05 517.33,69.93 520.46,70.81 523.58,71.68 526.71,72.56 529.84,73.44 532.97,74.32 536.09,75.19 539.22,76.07 542.35,76.95 545.48,77.82" fill="none" stroke="#d4cacf" stroke-width="1.35" stroke-linejoin="round"/>
<polyline points="545.48,77.82 550.97,76.64 556.46,75.46 561.95,74.27 567.44,73.09" fill="none" stroke="#d4cacf" stroke-width="1.35" stroke-linejoin="round"/>
<rect x="544.13" y="77.03" width="2.49" height="1.57" fill="#d6ced4"/>
<rect x="513.54" y="68.4" width="3.09" height="1.99" fill="#d6ced4"/>
<rect x="537.48" y="74.79" width="3.14" height="1.98" fill="#d6ced4"/>
<rect x="532.84" y="73.71" width="3" height="1.95" fill="#d6ced4"/>
<rect x="515.83" y="69.21" width="3.07" height="1.84" fill="#d6ced4"/>
<rect x="543.34" y="76.52" width="2.1" height="1.91" fill="#d6ced4"/>
<rect x="552.14" y="74.46" width="3.4" height="1.64" fill="#d6ced4"/>
<rect x="559.91" y="72.79" width="2.73" height="2.3" fill="#d6ced4"/>
<polyline points="514.2,80 517.32,80.83 520.44,81.65 523.57,82.48 526.69,83.31 529.81,84.14 532.93,84.96 536.06,85.79 539.18,86.62 542.3,87.45 545.42,88.28" fill="none" stroke="#d4cacf" stroke-width="1.35" stroke-linejoin="round"/>
<polyline points="545.42,88.28 550.95,87.07 556.47,85.87 561.99,84.67 567.51,83.46" fill="none" stroke="#d4cacf" stroke-width="1.35" stroke-linejoin="round"/>
<rect x="537.74" y="85.76" width="2.38" height="2.26" fill="#d6ced4"/>
<rect x="531.7" y="83.49" width="2.79" height="2.19" fill="#d6ced4"/>
<rect x="514.45" y="79.69" width="2.68" height="1.73" fill="#d6ced4"/>
<rect x="517.98" y="79.76" width="2.59" height="1.84" fill="#d6ced4"/>
<rect x="531.78" y="83.51" width="2.92" height="1.88" fill="#d6ced4"/>
<rect x="537.84" y="86.2" width="2.23" height="2.28" fill="#d6ced4"/>
<rect x="556.29" y="84.32" width="2.26" height="2.07" fill="#d6ced4"/>
<rect x="553.87" y="85.54" width="2.26" height="2.19" fill="#d6ced4"/>
<polyline points="514.2,89.68 517.32,90.47 520.44,91.25 523.55,92.03 526.67,92.82 529.79,93.6 532.91,94.39 536.02,95.17 539.14,95.95 542.26,96.74 545.38,97.52" fill="none" stroke="#d4cacf" stroke-width="1.35" stroke-linejoin="round"/>
<polyline points="545.38,97.52 550.93,96.3 556.48,95.08 562.03,93.86 567.58,92.64" fill="none" stroke="#d4cacf" stroke-width="1.35" stroke-linejoin="round"/>
<rect x="513.92" y="88.23" width="2.69" height="2.17" fill="#d6ced4"/>
<rect x="513.62" y="88.13" width="1.82" height="1.54" fill="#d6ced4"/>
<rect x="522.83" y="91.13" width="3.54" height="2.02" fill="#d6ced4"/>
<rect x="539.65" y="95.57" width="3.44" height="2.04" fill="#d6ced4"/>
<rect x="520.48" y="90.3" width="2.66" height="1.59" fill="#d6ced4"/>
<rect x="541.81" y="95.89" width="2.16" height="1.89" fill="#d6ced4"/>
<rect x="562.06" y="92.14" width="2.86" height="1.57" fill="#d6ced4"/>
<rect x="549.54" y="94.72" width="2.71" height="2.05" fill="#d6ced4"/>
<polyline points="514.2,101.05 517.31,101.78 520.42,102.51 523.54,103.25 526.65,103.98 529.76,104.71 532.87,105.44 535.99,106.18 539.1,106.91 542.21,107.64 545.32,108.38" fill="none" stroke="#d4cacf" stroke-width="1.35" stroke-linejoin="round"/>
<polyline points="545.32,108.38 550.91,107.14 556.49,105.89 562.08,104.65 567.66,103.41" fill="none" stroke="#d4cacf" stroke-width="1.35" stroke-linejoin="round"/>
<rect x="519.1" y="100.99" width="3.18" height="1.86" fill="#d6ced4"/>
<rect x="517.58" y="101.5" width="3.59" height="2" fill="#d6ced4"/>
<rect x="526.85" y="103.39" width="3.06" height="2.17" fill="#d6ced4"/>
<rect x="537.45" y="105.29" width="3.2" height="1.58" fill="#d6ced4"/>
<rect x="516.99" y="101" width="2.13" height="1.95" fill="#d6ced4"/>
<rect x="521.84" y="103.05" width="2.58" height="2.15" fill="#d6ced4"/>
<rect x="565.23" y="102.59" width="3.18" height="1.89" fill="#d6ced4"/>
<rect x="553.05" y="104.64" width="2.99" height="2.24" fill="#d6ced4"/>
<polyline points="536,91.3 540,93.5 544.5,96.3" fill="none" stroke="#e04850" stroke-width="2.0" stroke-linejoin="round" stroke-dasharray="none"/>
</g>
<path d="M514.2,64L545.5,73L567.4,68.3M545.5,73L545.3,113.2" stroke="#404a40" stroke-width="0.6" fill="none" opacity="0.7"/>
<polygon points="514.2,64 534.1,59.6 567.4,68.3 567.7,108.2 545.3,113.2 514.2,106.1" fill="none" stroke="#4c5a4c" stroke-width="0.5" opacity="0.5"/>
<clipPath id="cb5"><polygon points="582.8,64 603.9,59.8 636.2,68.9 636,109 614.9,113.2 583,104.5"/></clipPath>
<g clip-path="url(#cb5)">
<polygon points="582.8,64 603.9,59.8 636.2,68.9 636,109 614.9,113.2 583,104.5" fill="#65b55d"/>
<polygon points="582.8,64 603.9,59.8 636.2,68.9 614.8,73" fill="#70c267"/>
<path d="M619.53,76.72h0.8M603.7,101.07h0.8M610.13,67.65h0.8M604.34,73.03h0.8M619.32,82.5h0.8M588.41,86.08h0.8M633.43,85.43h0.8M616.42,66.12h0.8M584.12,108.25h0.8M583.48,98.99h0.8M623.74,63.4h0.8M623.77,72.3h0.8M615.03,87.85h0.8M592.83,87.8h0.8M616.77,89.92h0.8M627.76,88.18h0.8M627.01,101.03h0.8M596.02,65.27h0.8M615.5,89.13h0.8M595.59,76.01h0.8M599.82,76.55h0.8M616.57,100.17h0.8M621.54,111.69h0.8M617.59,76.56h0.8M612.54,87.55h0.8M597.66,85.23h0.8M631.01,111.74h0.8M583.83,106.82h0.8M632.93,95.77h0.8M592.32,86.74h0.8M609.28,103.44h0.8M590.33,73.5h0.8M614.1,97.87h0.8M621.38,90.15h0.8M598.4,89.25h0.8M619.07,62.29h0.8M593.78,100.5h0.8M612.24,73.45h0.8M601.59,90.81h0.8M589.13,61.25h0.8M604.3,107.98h0.8M598.08,107.8h0.8M595.83,110.63h0.8M621.87,68.11h0.8M600.67,79.12h0.8M587.79,102.29h0.8M605.65,111.84h0.8M627.71,108.59h0.8M614.46,63.49h0.8M616.02,60.2h0.8M605.38,85.7h0.8M590.69,95.39h0.8M604.88,110.84h0.8M599.36,110.93h0.8M611.37,95.58h0.8M600.39,98.41h0.8M618.82,64.73h0.8M599.03,69.53h0.8M584.19,87.81h0.8M587.83,98.69h0.8M609,75.67h0.8M610.75,79.78h0.8M603.6,103.96h0.8M611.62,68.06h0.8M632.92,113.2h0.8M614.91,85.3h0.8M606.46,96.04h0.8M588.82,100.54h0.8M624.53,87.6h0.8M582.9,63.03h0.8M629.71,88.86h0.8M619.2,65.39h0.8M604.64,94.66h0.8M593.91,85.94h0.8M585.74,72.75h0.8M608.24,112.9h0.8M623.96,111.51h0.8M623.11,61.16h0.8M612.53,98.92h0.8M619.74,64.03h0.8M615.66,85.98h0.8M592.36,70.34h0.8M584.85,92.64h0.8M592.43,110.63h0.8M607.36,68.65h0.8M591.75,62h0.8M596.24,110.62h0.8M632.32,94.46h0.8M622.33,76.26h0.8M622.74,91.86h0.8M592.16,102.4h0.8M586.81,79.29h0.8M584.86,81.87h0.8M595.08,64.16h0.8M620.24,70.85h0.8M592,76.89h0.8M591.39,98.99h0.8M586.87,105.4h0.8M613.03,64.34h0.8M627.2,100.35h0.8M607.46,83.62h0.8M614.18,110.05h0.8M629.7,78.29h0.8M615.89,111.05h0.8M623.36,68.8h0.8M594.34,74.47h0.8M612.28,76.92h0.8M623.05,104.46h0.8M597.81,84.51h0.8M593.72,60.58h0.8M584.33,92.17h0.8M586.56,89.74h0.8M594.71,68.12h0.8M614.06,95.79h0.8M596.6,99.62h0.8M622.11,102.49h0.8M635.46,102.12h0.8M616.25,66.65h0.8M617.56,80.48h0.8M611.19,77.99h0.8M588.72,106.36h0.8M635.14,80.1h0.8M634.51,64.1h0.8M584.11,108.79h0.8M587.02,63.99h0.8M633.11,108.71h0.8M624.3,86.87h0.8M613.04,68.93h0.8M605.88,75.23h0.8M623.34,66.2h0.8M594.53,91.57h0.8M601.49,67.3h0.8M614.89,103.52h0.8M601.64,109.58h0.8M607.28,60.58h0.8M590.17,86.94h0.8M613.95,76.44h0.8M627.73,83.77h0.8M616.33,64.87h0.8M604.73,63.68h0.8M592.78,69.32h0.8M590.44,71.5h0.8M584.28,96.89h0.8M628.47,71.15h0.8M615.69,93.23h0.8M595.53,64.32h0.8M587.41,106.61h0.8M634.38,93.12h0.8M602.08,76.31h0.8M583.72,83.74h0.8M632.15,107.1h0.8M601.67,100h0.8M622.33,78.56h0.8M588.87,98.15h0.8M625.99,91.75h0.8M619.78,99.36h0.8M614.55,95.09h0.8M633.06,75.82h0.8M599.44,97.93h0.8M593.95,92.86h0.8" stroke="#5aaa55" stroke-width="0.8" opacity="0.6"/>
<path d="M610.84,78.83h0.8M583.16,85.52h0.8M621.9,73.34h0.8M614.7,82.8h0.8M624.65,89.23h0.8M596.31,75.71h0.8M622.25,68.13h0.8M594.63,66.6h0.8M634.31,79.45h0.8M618.2,62.23h0.8M595.25,101.38h0.8M609.94,102.54h0.8M592.67,63.43h0.8M614.63,84.38h0.8M617.27,81.75h0.8M629.81,112.45h0.8M619.65,89.29h0.8M618.1,73.05h0.8M615.22,82.72h0.8M620.01,107.1h0.8M606.71,82.72h0.8M623.8,103h0.8M606.76,83.65h0.8M627.09,82.11h0.8M602.25,60.36h0.8M633.6,67.12h0.8M625.05,74.72h0.8M586.45,75.73h0.8M626.79,104.32h0.8M587.85,80.03h0.8M598.24,95.39h0.8M585.93,90.82h0.8M605.21,109.83h0.8M629.44,69.4h0.8M614.81,110.82h0.8M633.23,84.76h0.8M616.35,105.44h0.8M607.92,84.7h0.8M590.77,73.31h0.8M610.85,99.18h0.8M615.29,94.96h0.8M601.38,104.93h0.8M619.27,69.33h0.8M603.38,80.01h0.8M591.38,81.17h0.8M601.69,97.83h0.8M629.77,97.48h0.8M632.48,81.86h0.8M602.26,77.32h0.8M623.07,63.77h0.8M627.76,93.57h0.8M595.35,92.75h0.8M606.78,74.31h0.8M601.41,72.77h0.8M633.03,64.06h0.8M609.25,96.71h0.8M585.48,69.27h0.8M598.12,65.9h0.8M623.27,68.32h0.8M587.04,67.28h0.8M624.72,86.83h0.8M584.28,103.63h0.8M588.46,82.88h0.8M586.77,109.75h0.8M611.87,98.93h0.8M591.98,94.08h0.8M585.04,75.5h0.8M608.38,75.08h0.8M598.31,80.76h0.8M584.76,111.16h0.8M633.05,88.6h0.8M606.1,92.43h0.8M601.13,94.77h0.8M605.65,87.89h0.8M621.01,68.67h0.8M615.36,98.99h0.8M603.5,80.93h0.8M607.83,74.3h0.8M628.78,86.87h0.8M618.02,109.44h0.8M610.08,81.79h0.8M625.23,87.34h0.8M627.16,94.57h0.8M592.52,86.94h0.8M597.05,69.75h0.8M617.27,95.38h0.8M605.41,84.17h0.8M607.68,99.69h0.8M586.52,98.9h0.8M589.05,99.55h0.8M616.01,93.8h0.8M621.94,65.74h0.8M628.33,93.43h0.8M627.49,104.79h0.8M622.89,60.32h0.8M633.9,61.7h0.8M623.51,74.11h0.8M634.62,108.32h0.8M622.32,94.48h0.8M609.65,111.95h0.8M616.83,101.89h0.8M597.3,107.67h0.8M584.33,91.91h0.8M612.61,98.47h0.8M618.41,83.21h0.8M602.17,99.03h0.8M585.75,101.85h0.8M624.79,63.18h0.8M598.66,103.79h0.8M606.89,62.5h0.8M615.08,88.75h0.8M610.72,76.06h0.8M608.6,79.39h0.8M597.55,92.22h0.8M593.7,91.54h0.8M611.15,108.5h0.8M601.96,74.03h0.8M592.25,64.84h0.8M632.01,102.87h0.8M599.91,62.6h0.8M598.72,60.24h0.8M624.17,84h0.8M608.07,94.37h0.8M600.87,96h0.8M587.42,101.92h0.8M611.14,64.68h0.8M624.58,93.67h0.8M590.43,64.16h0.8M633.75,62.41h0.8M588.31,109.08h0.8M614.03,81.12h0.8M619.95,79.66h0.8M586.85,82.41h0.8M615.96,70.32h0.8M610.26,63.53h0.8M611.53,71.17h0.8M620.32,62.6h0.8M592.03,75.34h0.8M631.52,71.61h0.8M607.16,111.15h0.8M612,93.98h0.8M615.06,72.58h0.8M629.18,102.85h0.8M599.35,91.84h0.8M612.33,72.28h0.8M585.87,90.83h0.8M634.01,67.61h0.8M583.11,80.27h0.8M586.39,72.8h0.8M608.52,72.17h0.8M609.48,102.61h0.8M624.34,78.6h0.8M592.05,82.18h0.8M596.24,86.37h0.8M631.33,98.56h0.8M619.68,108.86h0.8M612.17,88.31h0.8M592.95,86.56h0.8M616.77,59.91h0.8M603.96,96.11h0.8" stroke="#8ad282" stroke-width="0.8" opacity="0.6"/>
<polyline points="582.83,70.89 586.03,71.78 589.23,72.67 592.43,73.57 595.63,74.46 598.83,75.36 602.02,76.25 605.22,77.15 608.42,78.04 611.62,78.94 614.82,79.83" fill="none" stroke="#d4cacf" stroke-width="1.35" stroke-linejoin="round"/>
<polyline points="614.82,79.83 620.15,78.8 625.49,77.78 630.83,76.75 636.17,75.72" fill="none" stroke="#d4cacf" stroke-width="1.35" stroke-linejoin="round"/>
<rect x="613.55" y="77.95" width="2.18" height="1.69" fill="#d6ced4"/>
<rect x="607.82" y="78.06" width="2.21" height="1.89" fill="#d6ced4"/>
<rect x="610.09" y="78.29" width="2.86" height="2.21" fill="#d6ced4"/>
<rect x="611.18" y="77.33" width="3.54" height="1.73" fill="#d6ced4"/>
<rect x="601.29" y="75.89" width="2.33" height="1.75" fill="#d6ced4"/>
<rect x="610.59" y="78.57" width="3.56" height="1.58" fill="#d6ced4"/>
<rect x="601.67" y="75.97" width="3.52" height="2.08" fill="#d6ced4"/>
<rect x="590.59" y="71.59" width="2.11" height="1.71" fill="#d6ced4"/>
<rect x="599.88" y="74.63" width="2.07" height="1.57" fill="#d6ced4"/>
<rect x="603.56" y="76.65" width="2.02" height="1.91" fill="#d6ced4"/>
<rect x="634.55" y="74.52" width="2.76" height="2.15" fill="#d6ced4"/>
<rect x="614.12" y="79.49" width="3.19" height="2.09" fill="#d6ced4"/>
<rect x="620.94" y="77.41" width="3.49" height="1.55" fill="#d6ced4"/>
<polyline points="582.88,81.01 586.08,81.9 589.28,82.78 592.47,83.67 595.67,84.56 598.86,85.45 602.06,86.33 605.25,87.22 608.45,88.11 611.65,89 614.84,89.88" fill="none" stroke="#d4cacf" stroke-width="1.35" stroke-linejoin="round"/>
<polyline points="614.84,89.88 620.16,88.85 625.48,87.81 630.8,86.78 636.12,85.74" fill="none" stroke="#d4cacf" stroke-width="1.35" stroke-linejoin="round"/>
<rect x="594.93" y="83.35" width="2.11" height="1.56" fill="#d6ced4"/>
<rect x="602.31" y="86.65" width="2.94" height="2.24" fill="#d6ced4"/>
<rect x="585.74" y="81.37" width="2.46" height="2.18" fill="#d6ced4"/>
<rect x="600.81" y="85.55" width="3.45" height="2.26" fill="#d6ced4"/>
<rect x="586.07" y="81.1" width="1.95" height="1.95" fill="#d6ced4"/>
<rect x="588.85" y="82.4" width="2.44" height="1.51" fill="#d6ced4"/>
<rect x="610.07" y="87.14" width="2.28" height="1.92" fill="#d6ced4"/>
<rect x="583.51" y="81.07" width="3.09" height="1.59" fill="#d6ced4"/>
<rect x="601.52" y="84.77" width="2.75" height="1.57" fill="#d6ced4"/>
<rect x="590.69" y="82.41" width="2.78" height="2.02" fill="#d6ced4"/>
<rect x="633.36" y="84.71" width="2.43" height="1.67" fill="#d6ced4"/>
<rect x="629.34" y="85.56" width="2.18" height="1.65" fill="#d6ced4"/>
<rect x="622.59" y="87.82" width="2.59" height="2.15" fill="#d6ced4"/>
<polyline points="582.93,90.73 586.13,91.61 589.32,92.49 592.51,93.37 595.71,94.25 598.9,95.13 602.09,96.01 605.29,96.89 608.48,97.77 611.67,98.65 614.87,99.53" fill="none" stroke="#d4cacf" stroke-width="1.35" stroke-linejoin="round"/>
<polyline points="614.87,99.53 620.17,98.49 625.47,97.45 630.77,96.41 636.07,95.37" fill="none" stroke="#d4cacf" stroke-width="1.35" stroke-linejoin="round"/>
<rect x="608.38" y="97.45" width="3.4" height="1.61" fill="#d6ced4"/>
<rect x="587.73" y="91.01" width="2.72" height="2.17" fill="#d6ced4"/>
<rect x="608.38" y="97.8" width="1.83" height="1.52" fill="#d6ced4"/>
<rect x="592.48" y="92.55" width="1.81" height="1.78" fill="#d6ced4"/>
<rect x="585.82" y="91.61" width="2.18" height="1.75" fill="#d6ced4"/>
<rect x="587.32" y="91.97" width="2" height="1.85" fill="#d6ced4"/>
<rect x="588.77" y="91.16" width="3.59" height="2.07" fill="#d6ced4"/>
<rect x="605.25" y="95.92" width="3.56" height="2.27" fill="#d6ced4"/>
<rect x="602.03" y="94.77" width="1.89" height="1.94" fill="#d6ced4"/>
<rect x="597.27" y="94.74" width="3.6" height="2.15" fill="#d6ced4"/>
<rect x="618.8" y="98.5" width="2.9" height="1.53" fill="#d6ced4"/>
<rect x="618.07" y="98.59" width="3.23" height="2.09" fill="#d6ced4"/>
<rect x="627.7" y="94.82" width="3.49" height="1.74" fill="#d6ced4"/>
<polyline points="582.98,100.45 586.17,101.32 589.36,102.2 592.55,103.07 595.74,103.94 598.94,104.81 602.13,105.69 605.32,106.56 608.51,107.43 611.7,108.31 614.89,109.18" fill="none" stroke="#d4cacf" stroke-width="1.35" stroke-linejoin="round"/>
<polyline points="614.89,109.18 620.17,108.13 625.46,107.08 630.74,106.04 636.02,104.99" fill="none" stroke="#d4cacf" stroke-width="1.35" stroke-linejoin="round"/>
<rect x="597.07" y="102.75" width="2.27" height="2.12" fill="#d6ced4"/>
<rect x="591.15" y="101.19" width="2.57" height="1.96" fill="#d6ced4"/>
<rect x="585.81" y="100.3" width="2.8" height="2.1" fill="#d6ced4"/>
<rect x="594.78" y="104" width="2.26" height="2.1" fill="#d6ced4"/>
<rect x="584.31" y="100.98" width="2.78" height="1.64" fill="#d6ced4"/>
<rect x="607.79" y="107.34" width="2.03" height="2.21" fill="#d6ced4"/>
<rect x="612.38" y="107.53" width="3.22" height="2.08" fill="#d6ced4"/>
<rect x="599.87" y="104.17" width="2.36" height="2.15" fill="#d6ced4"/>
<rect x="606.76" y="107.18" width="1.92" height="1.96" fill="#d6ced4"/>
<rect x="604.3" y="105.04" width="1.84" height="2.21" fill="#d6ced4"/>
<rect x="630.19" y="105.34" width="2.4" height="1.85" fill="#d6ced4"/>
<rect x="630.86" y="103.96" width="3.1" height="2.07" fill="#d6ced4"/>
<rect x="623.47" y="107.15" width="2.94" height="2.21" fill="#d6ced4"/>
<rect x="589.63" y="70.03" width="1.94" height="1.4" fill="#d8d0d6"/>
<rect x="598.45" y="74.57" width="2.99" height="1.4" fill="#d8d0d6"/>
<rect x="610.4" y="78.51" width="2.96" height="1.4" fill="#d8d0d6"/>
<rect x="605.27" y="76.38" width="1.64" height="1.4" fill="#d8d0d6"/>
<rect x="595.82" y="72.24" width="1.66" height="1.4" fill="#d8d0d6"/>
<rect x="610.14" y="75.56" width="1.87" height="1.4" fill="#d8d0d6"/>
<rect x="586.37" y="69.89" width="2.01" height="1.4" fill="#d8d0d6"/>
<rect x="611.5" y="77.51" width="2.14" height="1.4" fill="#d8d0d6"/>
<rect x="588.57" y="67.57" width="2.53" height="1.4" fill="#d8d0d6"/>
<rect x="601.75" y="73.94" width="2.26" height="1.4" fill="#d8d0d6"/>
<rect x="595.91" y="74.77" width="1.58" height="1.4" fill="#d8d0d6"/>
<rect x="590.71" y="72.64" width="1.97" height="1.4" fill="#d8d0d6"/>
<rect x="593.62" y="71.29" width="1.94" height="1.4" fill="#d8d0d6"/>
<rect x="606.02" y="72.74" width="2.33" height="1.4" fill="#d8d0d6"/>
<rect x="604.72" y="73.86" width="2.59" height="1.4" fill="#d8d0d6"/>
<rect x="594.29" y="72.62" width="1.65" height="1.4" fill="#d8d0d6"/>
<rect x="593.21" y="71.94" width="2.42" height="1.4" fill="#d8d0d6"/>
<rect x="597.45" y="69.99" width="2.31" height="1.4" fill="#d8d0d6"/>
<rect x="609.09" y="74.66" width="1.81" height="1.4" fill="#d8d0d6"/>
<rect x="602.01" y="72.43" width="1.65" height="1.4" fill="#d8d0d6"/>
<rect x="586.15" y="70.35" width="2.82" height="1.4" fill="#d8d0d6"/>
<rect x="606.37" y="75.8" width="2.81" height="1.4" fill="#d8d0d6"/>
<rect x="608.6" y="74.5" width="2.07" height="1.4" fill="#d8d0d6"/>
<rect x="612.24" y="79.56" width="2.46" height="1.4" fill="#d8d0d6"/>
<rect x="602.27" y="73.17" width="1.64" height="1.4" fill="#d8d0d6"/>
<polyline points="583,66.5 590.8,69.5" fill="none" stroke="#e04850" stroke-width="1.6" stroke-linejoin="round" stroke-dasharray="none"/>
<polyline points="604,73 615,76.5" fill="none" stroke="#e04850" stroke-width="1.6" stroke-linejoin="round" stroke-dasharray="none"/>
<polyline points="595.4,70.9 602.9,83.4 599.2,93.4" fill="none" stroke="#d6ccd2" stroke-width="2.1" stroke-linejoin="round" stroke-linecap="round" opacity="0.75"/>
<polyline points="597.9,90.9 609.1,77.2" fill="none" stroke="#d6ccd2" stroke-width="2.1" stroke-linejoin="round" stroke-linecap="round" opacity="0.75"/>
<polyline points="585.5,90.9 596.7,104.6" fill="none" stroke="#d6ccd2" stroke-width="2.1" stroke-linejoin="round" stroke-linecap="round" opacity="0.75"/>
<polyline points="585,99 591,93" fill="none" stroke="#d6ccd2" stroke-width="2.1" stroke-linejoin="round" stroke-linecap="round" opacity="0.75"/>
<polyline points="622.8,96 626.5,102.2 631.5,94.8" fill="none" stroke="#d6ccd2" stroke-width="2.1" stroke-linejoin="round" stroke-linecap="round" opacity="0.75"/>
<polyline points="626.5,102.2 625.3,108.5" fill="none" stroke="#d6ccd2" stroke-width="2.1" stroke-linejoin="round" stroke-linecap="round" opacity="0.75"/>
<polyline points="606,60.5 618,64" fill="none" stroke="#d6ccd2" stroke-width="2.1" stroke-linejoin="round" stroke-linecap="round" opacity="0.75"/>
<polyline points="604.7,87.4 606.5,94.6" fill="none" stroke="#d6ccd2" stroke-width="2.1" stroke-linejoin="round" stroke-linecap="round" opacity="0.75"/>
<polyline points="600,110 603,106" fill="none" stroke="#d6ccd2" stroke-width="2.1" stroke-linejoin="round" stroke-linecap="round" opacity="0.75"/>
<polyline points="595.4,70.9 602.9,83.4 599.2,93.4" fill="none" stroke="#e25c66" stroke-width="1.0" stroke-linejoin="round" stroke-dasharray="none"/>
<polyline points="597.9,90.9 609.1,77.2" fill="none" stroke="#e25c66" stroke-width="1.0" stroke-linejoin="round" stroke-dasharray="none"/>
<polyline points="585.5,90.9 596.7,104.6" fill="none" stroke="#e25c66" stroke-width="1.0" stroke-linejoin="round" stroke-dasharray="none"/>
<polyline points="585,99 591,93" fill="none" stroke="#e25c66" stroke-width="1.0" stroke-linejoin="round" stroke-dasharray="none"/>
<polyline points="622.8,96 626.5,102.2 631.5,94.8" fill="none" stroke="#e25c66" stroke-width="1.0" stroke-linejoin="round" stroke-dasharray="none"/>
<polyline points="626.5,102.2 625.3,108.5" fill="none" stroke="#e25c66" stroke-width="1.0" stroke-linejoin="round" stroke-dasharray="none"/>
<polyline points="606,60.5 618,64" fill="none" stroke="#e25c66" stroke-width="1.0" stroke-linejoin="round" stroke-dasharray="none"/>
<polyline points="604.7,87.4 606.5,94.6" fill="none" stroke="#e25c66" stroke-width="1.0" stroke-linejoin="round" stroke-dasharray="none"/>
<polyline points="600,110 603,106" fill="none" stroke="#e25c66" stroke-width="1.0" stroke-linejoin="round" stroke-dasharray="none"/>
</g>
<path d="M582.8,64L614.8,73L636.2,68.9M614.8,73L614.9,113.2" stroke="#404a40" stroke-width="0.6" fill="none" opacity="0.7"/>
<polygon points="582.8,64 603.9,59.8 636.2,68.9 636,109 614.9,113.2 583,104.5" fill="none" stroke="#4c5a4c" stroke-width="0.5" opacity="0.5"/>
<text x="116.4" y="130" style="font-family:'Liberation Serif',serif" font-size="11.3">(I) γ=0.01</text>
<text x="179.3" y="130" style="font-family:'Liberation Serif',serif" font-size="11.3">(II) γ=0.055</text>
<text x="245.1" y="130" style="font-family:'Liberation Serif',serif" font-size="11.3">(III) γ=0.098</text>
<text x="452" y="130" style="font-family:'Liberation Serif',serif" font-size="11.3">(I) γ=0.01</text>
<text x="516.8" y="130" style="font-family:'Liberation Serif',serif" font-size="11.3">(II) γ=0.09</text>
<text x="585.2" y="130" style="font-family:'Liberation Serif',serif" font-size="11.3">(III) γ=0.1</text>
<text x="63.5" y="149.5" style="font-family:'Liberation Serif',serif" font-size="11.8" fill="#2a9ad8">(<tspan style="font-style:italic">γ</tspan><tspan font-size="7.2" dy="2.4">Y</tspan><tspan dy="-2.4">,</tspan><tspan dx="0.9" style="font-style:italic">τ</tspan><tspan font-size="7.2" dy="2.4">Y</tspan><tspan dy="-2.4">)</tspan></text>
<text x="82.5" y="68" style="font-family:'Liberation Serif',serif" font-size="11.8" fill="#f39444">(<tspan style="font-style:italic">γ</tspan><tspan font-size="7.2" dy="2.4">P</tspan><tspan dy="-2.4">,</tspan><tspan dx="0.9" style="font-style:italic">τ</tspan><tspan font-size="7.2" dy="2.4">P</tspan><tspan dy="-2.4">)</tspan></text>
<text x="382.8" y="62" style="font-family:'Liberation Serif',serif" font-size="11.8" fill="#2a9ad8">(<tspan style="font-style:italic">γ</tspan><tspan font-size="7.2" dy="2.4">Y</tspan><tspan dy="-2.4">,</tspan><tspan dx="0.9" style="font-style:italic">τ</tspan><tspan font-size="7.2" dy="2.4">Y</tspan><tspan dy="-2.4">)</tspan></text>
<text x="435.3" y="41" style="font-family:'Liberation Serif',serif" font-size="11.8" fill="#f39444">(<tspan style="font-style:italic">γ</tspan><tspan font-size="7.2" dy="2.4">P</tspan><tspan dy="-2.4">,</tspan><tspan dx="0.9" style="font-style:italic">τ</tspan><tspan font-size="7.2" dy="2.4">P</tspan><tspan dy="-2.4">)</tspan></text>
</g></svg>
</body></html>
